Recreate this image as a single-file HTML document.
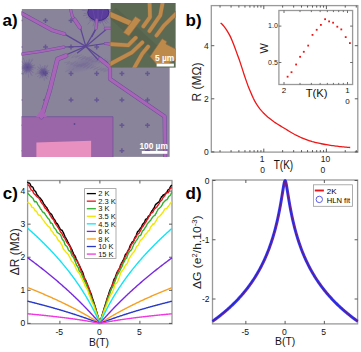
<!DOCTYPE html>
<html><head><meta charset="utf-8"><style>
html,body{margin:0;padding:0;background:#fff;}
svg{display:block;font-family:"Liberation Sans", sans-serif;}
</style></head><body>
<svg width="361" height="352" viewBox="0 0 361 352" font-family='"Liberation Sans", sans-serif'>
<rect width="361" height="352" fill="#fff"/>
<text x="2.5" y="25.5" font-size="17" text-anchor="start" font-weight="bold" fill="#000" >a)</text>
<text x="185.5" y="25.5" font-size="17" text-anchor="start" font-weight="bold" fill="#000" >b)</text>
<text x="2.8" y="198.8" font-size="17" text-anchor="start" font-weight="bold" fill="#000" >c)</text>
<text x="185.5" y="199.3" font-size="17" text-anchor="start" font-weight="bold" fill="#000" >d)</text>
<clipPath id="phclip"><rect x="21.6" y="9.0" width="148.20000000000002" height="147.9"/></clipPath>
<g clip-path="url(#phclip)">
<rect x="21.6" y="9.0" width="148.20000000000002" height="147.9" fill="#8a849b"/>
<path d="M17.6,20.6 H22.4 M20,18.2 V23" stroke="#56458e" stroke-width="1.5" opacity="0.7"/>
<path d="M17.6,47 H22.4 M20,44.6 V49.4" stroke="#56458e" stroke-width="1.5" opacity="0.7"/>
<path d="M17.6,73.6 H22.4 M20,71.2 V76" stroke="#56458e" stroke-width="1.5" opacity="0.7"/>
<path d="M17.6,99.9 H22.4 M20,97.5 V102.3" stroke="#56458e" stroke-width="1.5" opacity="0.7"/>
<path d="M17.6,125.3 H22.4 M20,122.9 V127.7" stroke="#56458e" stroke-width="1.5" opacity="0.7"/>
<path d="M17.6,150.7 H22.4 M20,148.3 V153.1" stroke="#56458e" stroke-width="1.5" opacity="0.7"/>
<path d="M43.1,20.6 H47.9 M45.5,18.2 V23" stroke="#56458e" stroke-width="1.5" opacity="0.7"/>
<path d="M43.1,47 H47.9 M45.5,44.6 V49.4" stroke="#56458e" stroke-width="1.5" opacity="0.7"/>
<path d="M43.1,73.6 H47.9 M45.5,71.2 V76" stroke="#56458e" stroke-width="1.5" opacity="0.7"/>
<path d="M43.1,99.9 H47.9 M45.5,97.5 V102.3" stroke="#56458e" stroke-width="1.5" opacity="0.7"/>
<path d="M43.1,125.3 H47.9 M45.5,122.9 V127.7" stroke="#56458e" stroke-width="1.5" opacity="0.7"/>
<path d="M43.1,150.7 H47.9 M45.5,148.3 V153.1" stroke="#56458e" stroke-width="1.5" opacity="0.7"/>
<path d="M68.6,20.6 H73.4 M71,18.2 V23" stroke="#56458e" stroke-width="1.5" opacity="0.7"/>
<path d="M68.6,47 H73.4 M71,44.6 V49.4" stroke="#56458e" stroke-width="1.5" opacity="0.7"/>
<path d="M68.6,73.6 H73.4 M71,71.2 V76" stroke="#56458e" stroke-width="1.5" opacity="0.7"/>
<path d="M68.6,99.9 H73.4 M71,97.5 V102.3" stroke="#56458e" stroke-width="1.5" opacity="0.7"/>
<path d="M68.6,125.3 H73.4 M71,122.9 V127.7" stroke="#56458e" stroke-width="1.5" opacity="0.7"/>
<path d="M68.6,150.7 H73.4 M71,148.3 V153.1" stroke="#56458e" stroke-width="1.5" opacity="0.7"/>
<path d="M94.3,20.6 H99.1 M96.7,18.2 V23" stroke="#56458e" stroke-width="1.5" opacity="0.7"/>
<path d="M94.3,47 H99.1 M96.7,44.6 V49.4" stroke="#56458e" stroke-width="1.5" opacity="0.7"/>
<path d="M94.3,73.6 H99.1 M96.7,71.2 V76" stroke="#56458e" stroke-width="1.5" opacity="0.7"/>
<path d="M94.3,99.9 H99.1 M96.7,97.5 V102.3" stroke="#56458e" stroke-width="1.5" opacity="0.7"/>
<path d="M94.3,125.3 H99.1 M96.7,122.9 V127.7" stroke="#56458e" stroke-width="1.5" opacity="0.7"/>
<path d="M94.3,150.7 H99.1 M96.7,148.3 V153.1" stroke="#56458e" stroke-width="1.5" opacity="0.7"/>
<path d="M119.5,20.6 H124.3 M121.9,18.2 V23" stroke="#56458e" stroke-width="1.5" opacity="0.7"/>
<path d="M119.5,47 H124.3 M121.9,44.6 V49.4" stroke="#56458e" stroke-width="1.5" opacity="0.7"/>
<path d="M119.5,73.6 H124.3 M121.9,71.2 V76" stroke="#56458e" stroke-width="1.5" opacity="0.7"/>
<path d="M119.5,99.9 H124.3 M121.9,97.5 V102.3" stroke="#56458e" stroke-width="1.5" opacity="0.7"/>
<path d="M119.5,125.3 H124.3 M121.9,122.9 V127.7" stroke="#56458e" stroke-width="1.5" opacity="0.7"/>
<path d="M119.5,150.7 H124.3 M121.9,148.3 V153.1" stroke="#56458e" stroke-width="1.5" opacity="0.7"/>
<path d="M145.1,20.6 H149.9 M147.5,18.2 V23" stroke="#56458e" stroke-width="1.5" opacity="0.7"/>
<path d="M145.1,47 H149.9 M147.5,44.6 V49.4" stroke="#56458e" stroke-width="1.5" opacity="0.7"/>
<path d="M145.1,73.6 H149.9 M147.5,71.2 V76" stroke="#56458e" stroke-width="1.5" opacity="0.7"/>
<path d="M145.1,99.9 H149.9 M147.5,97.5 V102.3" stroke="#56458e" stroke-width="1.5" opacity="0.7"/>
<path d="M145.1,125.3 H149.9 M147.5,122.9 V127.7" stroke="#56458e" stroke-width="1.5" opacity="0.7"/>
<path d="M145.1,150.7 H149.9 M147.5,148.3 V153.1" stroke="#56458e" stroke-width="1.5" opacity="0.7"/>
<path d="M170.6,20.6 H175.4 M173,18.2 V23" stroke="#56458e" stroke-width="1.5" opacity="0.7"/>
<path d="M170.6,47 H175.4 M173,44.6 V49.4" stroke="#56458e" stroke-width="1.5" opacity="0.7"/>
<path d="M170.6,73.6 H175.4 M173,71.2 V76" stroke="#56458e" stroke-width="1.5" opacity="0.7"/>
<path d="M170.6,99.9 H175.4 M173,97.5 V102.3" stroke="#56458e" stroke-width="1.5" opacity="0.7"/>
<path d="M170.6,125.3 H175.4 M173,122.9 V127.7" stroke="#56458e" stroke-width="1.5" opacity="0.7"/>
<path d="M170.6,150.7 H175.4 M173,148.3 V153.1" stroke="#56458e" stroke-width="1.5" opacity="0.7"/>
<defs><radialGradient id="blobg"><stop offset="0" stop-color="#5a3c9a" stop-opacity="0.95"/><stop offset="0.6" stop-color="#5a3c9a" stop-opacity="0.85"/><stop offset="1" stop-color="#5a3c9a" stop-opacity="0"/></radialGradient><radialGradient id="dustg"><stop offset="0" stop-color="#54428e" stop-opacity="0.9"/><stop offset="0.5" stop-color="#5a4890" stop-opacity="0.55"/><stop offset="1" stop-color="#5a4890" stop-opacity="0"/></radialGradient><radialGradient id="streakg"><stop offset="0" stop-color="#6a5c96" stop-opacity="0.45"/><stop offset="1" stop-color="#6a5c96" stop-opacity="0"/></radialGradient></defs>
<circle cx="98.0" cy="12.5" r="11.25" fill="url(#blobg)"/>
<path d="M102.5,12.5 L108.12,12.5 M102.22,14.07 L108.46,16.4 M101.4,15.45 L107.22,20.49 M101.79,14.93 L109.14,19.66 M100.7,16.1 L106.56,23.93 M101.18,15.68 L108.83,23.33 M99.87,16.59 L104.79,27.38 M98.32,16.99 L98.76,23.12 M98.96,16.9 L100.48,23.92 M97.36,16.95 L96.19,25.09 M98,17 L98,26.26 M96.43,16.72 L92.83,26.36 M95.05,15.9 L87.63,24.47 M95.57,16.29 L92.53,21.02 M94.4,15.2 L89.06,19.19 M94.82,15.68 L89.37,21.13 M93.91,14.37 L85.96,18 M93.51,12.82 L83.76,13.52 M93.6,13.46 L83.03,15.76 M93.55,11.86 L81.81,10.17 M93.5,12.5 L87.36,12.5 M93.78,10.93 L87.05,8.42 M94.6,9.55 L88.39,4.17 M94.21,10.07 L86.42,5.06 M95.3,8.9 L89.13,0.65 M94.82,9.32 L86.8,1.3 M96.13,8.41 L93.79,3.29 M97.68,8.01 L97.21,1.36 M97.04,8.1 L95.41,0.58 M98.64,8.05 L99.89,-0.61 M98,8 L98,-1.78 M99.57,8.28 L103.35,-1.85 M100.95,9.1 L108.71,0.14 M100.43,8.71 L103.76,3.55 M101.6,9.8 L107.35,5.5 M101.18,9.32 L107,3.5 M102.09,10.63 L110.52,6.79 M102.49,12.18 L112.76,11.45 M102.4,11.54 L113.47,9.13 M102.45,13.14 L108.02,13.94" stroke="#5a3c9a" stroke-width="0.45" opacity="0.55"/>
<ellipse cx="98.3" cy="12.5" rx="10.5" ry="8" fill="#5a3c9c" stroke="#442a86" stroke-width="1"/>
<path d="M92,6 Q94,14 95,20 M98,5 V21 M104,6 Q102,14 101,20" stroke="#7458b0" stroke-width="0.7" fill="none" opacity="0.6"/>
<circle cx="27.5" cy="67.3" r="6.0" fill="url(#dustg)"/>
<path d="M29.9,67.3 L33.98,67.3 M29.7,68.26 L34.05,70.14 M29.14,69.05 L32.83,73 M29.29,68.9 L33.82,72.94 M28.51,69.48 L31.33,75.59 M28.7,69.38 L32.4,75.79 M27.77,69.68 L28.69,77.7 M26.8,69.6 L25.52,73.82 M27.01,69.65 L25.98,74.62 M26.12,69.26 L22.81,73.95 M26.3,69.38 L23.1,74.93 M25.57,68.73 L19.89,72.94 M25.16,67.84 L17.63,69.59 M25.22,68.05 L21.35,69.33 M25.11,67.08 L20.38,66.65 M25.1,67.3 L19.69,67.3 M25.3,66.34 L19.73,63.93 M25.86,65.55 L21.26,60.63 M25.71,65.7 L20.18,60.77 M26.49,65.12 L23.11,57.8 M26.3,65.22 L24.09,61.4 M27.23,64.92 L26.65,59.87 M28.2,65 L29.87,59.51 M27.99,64.95 L29.29,58.68 M28.88,65.34 L32.96,59.56 M28.7,65.22 L32.57,58.52 M29.43,65.87 L32.71,63.44 M29.84,66.76 L34.46,65.68 M29.78,66.55 L34.92,64.85 M29.89,67.52 L35.94,68.07" stroke="#5a4890" stroke-width="0.45" opacity="0.5"/>
<circle cx="43.4" cy="72.2" r="5.0" fill="url(#dustg)"/>
<path d="M45.4,72.2 L48.8,72.2 M45.23,73 L48.86,74.57 M44.77,73.66 L47.85,76.95 M44.89,73.53 L48.67,76.9 M44.24,74.02 L46.6,79.11 M44.4,73.93 L47.48,79.27 M43.63,74.19 L44.39,80.87 M42.82,74.11 L41.75,77.63 M42.99,74.16 L42.13,78.3 M42.25,73.83 L39.49,77.74 M42.4,73.93 L39.73,78.56 M41.79,73.39 L37.06,76.9 M41.45,72.65 L35.17,74.11 M41.5,72.83 L38.27,73.89 M41.41,72.02 L37.47,71.66 M41.4,72.2 L36.89,72.2 M41.57,71.4 L36.92,69.39 M42.03,70.74 L38.2,66.64 M41.91,70.87 L37.3,66.76 M42.56,70.38 L39.74,64.28 M42.4,70.47 L40.56,67.28 M43.17,70.21 L42.69,66.01 M43.98,70.29 L45.37,65.71 M43.81,70.24 L44.89,65.01 M44.55,70.57 L47.95,65.75 M44.4,70.47 L47.62,64.89 M45.01,71.01 L47.74,68.98 M45.35,71.75 L49.2,70.85 M45.3,71.57 L49.58,70.16 M45.39,72.38 L50.43,72.84" stroke="#5a4890" stroke-width="0.45" opacity="0.5"/>
<ellipse cx="84" cy="64" rx="22" ry="8" fill="url(#streakg)" transform="rotate(-18 84 64)"/>
<path d="M64,57 l4,-1.5 M101,64 l5,-2.5 M96,71 l6,-3.5 M91,62 l7,-1.5 M86,69 l4,-2.5 M81,60 l5,-3.5 M76,67 l6,-1.5 M71,58 l7,-2.5 M66,65 l4,-3.5 M103,72 l5,-1.5 M98,63 l6,-2.5 M93,70 l7,-3.5 M88,61 l4,-1.5 M83,68 l5,-2.5 M78,59 l6,-3.5 M73,66 l7,-1.5 M68,57 l4,-2.5 M105,64 l5,-3.5 M100,71 l6,-1.5 M95,62 l7,-2.5 M90,69 l4,-3.5 M85,60 l5,-1.5 M80,67 l6,-2.5 M75,58 l7,-3.5 M70,65 l4,-1.5 M65,72 l5,-2.5 M102,63 l6,-3.5 M97,70 l7,-1.5 M92,61 l4,-2.5 M87,68 l5,-3.5 M82,59 l6,-1.5 M77,66 l7,-2.5 M72,57 l4,-3.5 M67,64 l5,-1.5 M104,71 l6,-2.5 M99,62 l7,-3.5 M94,69 l4,-1.5 M89,60 l5,-2.5 M84,67 l6,-3.5 M79,58 l7,-1.5 M74,65 l4,-2.5 M69,72 l5,-3.5 M64,63 l6,-1.5 M101,70 l7,-2.5 M96,61 l4,-3.5 M91,68 l5,-1.5 M86,59 l6,-2.5 M81,66 l7,-3.5 M76,57 l4,-1.5 M71,64 l5,-2.5" stroke="#62558e" stroke-width="0.4" opacity="0.45"/>
<path d="M18,116.7 H113 V160 H18 Z" fill="#9a66a8" stroke="#6d4f9c" stroke-width="0.7"/>
<circle cx="74.5" cy="124" r="0.9" fill="#5a4890"/>
<path d="M36.4,142.4 L91.1,140.7 L91.1,160 L36.4,160 Z" fill="#e891c0"/>
<path d="M64.2,33.9 L85.8,46.4" fill="none" stroke="#5c4896" stroke-width="1.25" stroke-linejoin="round"/>
<path d="M80.3,27.5 L85.8,46.4" fill="none" stroke="#5c4896" stroke-width="1.25" stroke-linejoin="round"/>
<path d="M96,28.6 L85.8,46.4" fill="none" stroke="#5c4896" stroke-width="1.25" stroke-linejoin="round"/>
<path d="M107.3,28.4 L85.8,46.4" fill="none" stroke="#5c4896" stroke-width="1.25" stroke-linejoin="round"/>
<path d="M108.5,43 L85.8,46.4" fill="none" stroke="#5c4896" stroke-width="1.25" stroke-linejoin="round"/>
<path d="M63.75,47 L85.8,46.4" fill="none" stroke="#5c4896" stroke-width="1.25" stroke-linejoin="round"/>
<path d="M77,53.3 L85.8,46.4" fill="none" stroke="#5c4896" stroke-width="1.25" stroke-linejoin="round"/>
<path d="M58.75,58 L85.8,46.4" fill="none" stroke="#5c4896" stroke-width="1.25" stroke-linejoin="round"/>
<path d="M98.2,60 L85.8,46.4" fill="none" stroke="#5c4896" stroke-width="1.25" stroke-linejoin="round"/>
<path d="M108,63 L85.8,46.4" fill="none" stroke="#5c4896" stroke-width="1.25" stroke-linejoin="round"/>
<path d="M91.8,37 L96,28.6" fill="none" stroke="#5c4896" stroke-width="1.25" stroke-linejoin="round"/>
<path d="M18,11.5 L52.7,30.4 L64.2,33.9" fill="none" stroke="#6c509c" stroke-width="4.04" stroke-linejoin="round" stroke-linecap="round"/>
<path d="M18,11.5 L52.7,30.4 L64.2,33.9" fill="none" stroke="#a864b6" stroke-width="3.04" stroke-linejoin="round" stroke-linecap="round"/>
<path d="M18,54.5 L40,51.5 L63.75,47.2" fill="none" stroke="#6c509c" stroke-width="3.2399999999999998" stroke-linejoin="round" stroke-linecap="round"/>
<path d="M18,54.5 L40,51.5 L63.75,47.2" fill="none" stroke="#a864b6" stroke-width="2.2399999999999998" stroke-linejoin="round" stroke-linecap="round"/>
<path d="M69.8,6 L72.3,16.5 L74.5,19.5 L80.3,27.8" fill="none" stroke="#6c509c" stroke-width="3.08" stroke-linejoin="round" stroke-linecap="round"/>
<path d="M69.8,6 L72.3,16.5 L74.5,19.5 L80.3,27.8" fill="none" stroke="#a864b6" stroke-width="2.08" stroke-linejoin="round" stroke-linecap="round"/>
<path d="M74.8,19.8 L79.8,27.3" fill="none" stroke="#6c509c" stroke-width="4.2" stroke-linejoin="round" stroke-linecap="round"/>
<path d="M74.8,19.8 L79.8,27.3" fill="none" stroke="#a864b6" stroke-width="3.2" stroke-linejoin="round" stroke-linecap="round"/>
<path d="M96.7,19.8 L96,28.6" fill="none" stroke="#6c509c" stroke-width="3.08" stroke-linejoin="round" stroke-linecap="round"/>
<path d="M96.7,19.8 L96,28.6" fill="none" stroke="#a864b6" stroke-width="2.08" stroke-linejoin="round" stroke-linecap="round"/>
<path d="M105.3,28.4 L113,28.4" fill="none" stroke="#6c509c" stroke-width="3.08" stroke-linejoin="round" stroke-linecap="round"/>
<path d="M105.3,28.4 L113,28.4" fill="none" stroke="#a864b6" stroke-width="2.08" stroke-linejoin="round" stroke-linecap="round"/>
<path d="M105.3,43.5 L113,44.5" fill="none" stroke="#6c509c" stroke-width="3.08" stroke-linejoin="round" stroke-linecap="round"/>
<path d="M105.3,43.5 L113,44.5" fill="none" stroke="#a864b6" stroke-width="2.08" stroke-linejoin="round" stroke-linecap="round"/>
<path d="M66,55.8 L57.5,59 L49.8,90 L41.4,117" fill="none" stroke="#6c509c" stroke-width="4.68" stroke-linejoin="round" stroke-linecap="round"/>
<path d="M66,55.8 L57.5,59 L49.8,90 L41.4,117" fill="none" stroke="#a864b6" stroke-width="3.6799999999999997" stroke-linejoin="round" stroke-linecap="round"/>
<path d="M36,117 L41.6,109 L47,117 Z" fill="#a864b6"/>
<path d="M100,59 L110,67 L110,79 L164.6,116.5 L165.2,162" fill="none" stroke="#6c509c" stroke-width="4.12" stroke-linejoin="round" stroke-linecap="round"/>
<path d="M100,59 L110,67 L110,79 L164.6,116.5 L165.2,162" fill="none" stroke="#a864b6" stroke-width="3.12" stroke-linejoin="round" stroke-linecap="round"/>
</g>
<clipPath id="inclip"><rect x="110.4" y="3.0" width="65.4" height="64.8"/></clipPath>
<g clip-path="url(#inclip)">
<rect x="110.4" y="3.0" width="65.4" height="64.8" fill="#5d6a53"/>
<path d="M111.9,12 L137.8,35.8 L163.6,59.6" stroke="#4f5a47" stroke-width="12" fill="none" opacity="0.45"/>
<path d="M107.4,13.2 L132.4,24" fill="none" stroke="#8c6c44" stroke-width="5.7" stroke-linejoin="round" stroke-linecap="round"/>
<path d="M107.4,13.2 L132.4,24" fill="none" stroke="#be8a4c" stroke-width="4.8" stroke-linejoin="round" stroke-linecap="round"/>
<path d="M135.4,16.5 L140.9,20 L128.9,36 L123.4,32.5 Z" fill="#be8a4c" stroke="#8c6c44" stroke-width="0.7" stroke-linejoin="round"/>
<path d="M149.5,0 L150,17.1 L143.4,26.4" fill="none" stroke="#8c6c44" stroke-width="4.5" stroke-linejoin="round" stroke-linecap="round"/>
<path d="M149.5,0 L150,17.1 L143.4,26.4" fill="none" stroke="#be8a4c" stroke-width="3.5999999999999996" stroke-linejoin="round" stroke-linecap="round"/>
<path d="M163.1,0 L160.3,15.2 L149.5,31.1" fill="none" stroke="#8c6c44" stroke-width="4.5" stroke-linejoin="round" stroke-linecap="round"/>
<path d="M163.1,0 L160.3,15.2 L149.5,31.1" fill="none" stroke="#be8a4c" stroke-width="3.5999999999999996" stroke-linejoin="round" stroke-linecap="round"/>
<path d="M179.4,10.5 L164,25.5 L156.5,35.5" fill="none" stroke="#8c6c44" stroke-width="4.5" stroke-linejoin="round" stroke-linecap="round"/>
<path d="M179.4,10.5 L164,25.5 L156.5,35.5" fill="none" stroke="#be8a4c" stroke-width="3.5999999999999996" stroke-linejoin="round" stroke-linecap="round"/>
<path d="M107.4,43.9 L128.2,45.3 L135.7,37.8" fill="none" stroke="#8c6c44" stroke-width="4.5" stroke-linejoin="round" stroke-linecap="round"/>
<path d="M107.4,43.9 L128.2,45.3 L135.7,37.8" fill="none" stroke="#be8a4c" stroke-width="3.5999999999999996" stroke-linejoin="round" stroke-linecap="round"/>
<path d="M107.4,65.5 L132,52.3 L142.3,42.5" fill="none" stroke="#8c6c44" stroke-width="4.5" stroke-linejoin="round" stroke-linecap="round"/>
<path d="M107.4,65.5 L132,52.3 L142.3,42.5" fill="none" stroke="#be8a4c" stroke-width="3.5999999999999996" stroke-linejoin="round" stroke-linecap="round"/>
<path d="M131.9,72 L142.3,53.7 L148.1,46.7" fill="none" stroke="#8c6c44" stroke-width="4.5" stroke-linejoin="round" stroke-linecap="round"/>
<path d="M131.9,72 L142.3,53.7 L148.1,46.7" fill="none" stroke="#be8a4c" stroke-width="3.5999999999999996" stroke-linejoin="round" stroke-linecap="round"/>
<path d="M162.1,38.7 L166.8,41.6 L165.9,44 L177.4,50 L177.4,59 L168.4,63.5 L156.4,64 L150,56.5 Z" fill="#be8a4c" stroke="#8c6c44" stroke-width="0.7" stroke-linejoin="round"/>
</g>
<text x="164.6" y="61" font-size="8.4" text-anchor="middle" font-weight="bold" fill="#fff" >5 µm</text>
<rect x="156.6" y="63.6" width="17.3" height="2.9" fill="#fff"/>
<text x="139.4" y="148.6" font-size="8.8" text-anchor="start" font-weight="bold" fill="#fff" textLength="28.4" lengthAdjust="spacingAndGlyphs">100 µm</text>
<rect x="141.8" y="151" width="25.6" height="2.8" fill="#fff"/>
<rect x="211.3" y="5.6" width="146.5" height="146.5" fill="none" stroke="#999999" stroke-width="1.3"/>
<text x="208.8" y="154.9" font-size="8.5" text-anchor="end" font-weight="normal" fill="#222" >0</text>
<text x="208.8" y="101.8" font-size="8.5" text-anchor="end" font-weight="normal" fill="#222" >2</text>
<text x="208.8" y="48.7" font-size="8.5" text-anchor="end" font-weight="normal" fill="#222" >4</text>
<path d="M211.3,151.9 h3 M357.8,151.9 h-3 M211.3,98.8 h3 M357.8,98.8 h-3 M211.3,45.7 h3 M357.8,45.7 h-3 M220.04,152.1 v-2 M220.04,5.6 v2 M231.07,152.1 v-2 M231.07,5.6 v2 M238.89,152.1 v-2 M238.89,5.6 v2 M244.96,152.1 v-2 M244.96,5.6 v2 M249.91,152.1 v-2 M249.91,5.6 v2 M254.1,152.1 v-2 M254.1,5.6 v2 M257.73,152.1 v-2 M257.73,5.6 v2 M260.94,152.1 v-2 M260.94,5.6 v2 M263.8,152.1 v-3.5 M263.8,5.6 v3.5 M282.64,152.1 v-2 M282.64,5.6 v2 M293.67,152.1 v-2 M293.67,5.6 v2 M301.49,152.1 v-2 M301.49,5.6 v2 M307.56,152.1 v-2 M307.56,5.6 v2 M312.51,152.1 v-2 M312.51,5.6 v2 M316.7,152.1 v-2 M316.7,5.6 v2 M320.33,152.1 v-2 M320.33,5.6 v2 M323.54,152.1 v-2 M323.54,5.6 v2 M326.4,152.1 v-3.5 M326.4,5.6 v3.5 M345.24,152.1 v-2 M345.24,5.6 v2 M356.27,152.1 v-2 M356.27,5.6 v2" stroke="#4a4a4a" stroke-width="0.9" fill="none"/>
<text x="262.2" y="161.7" font-size="8.5" text-anchor="middle" font-weight="normal" fill="#222" >1</text>
<text x="262.5" y="172.6" font-size="8.5" text-anchor="middle" font-weight="normal" fill="#222" >0</text>
<text x="325.6" y="161.7" font-size="8.5" text-anchor="middle" font-weight="normal" fill="#222" >10</text>
<text x="322.9" y="172.6" font-size="8.5" text-anchor="middle" font-weight="normal" fill="#222" >0</text>
<text x="273.7" y="168.8" font-size="12.5" text-anchor="start" font-weight="normal" fill="#111" textLength="19.5" lengthAdjust="spacingAndGlyphs">T(K)</text>
<text transform="translate(201.0,82) rotate(-90)" font-size="12" text-anchor="middle" fill="#222">R (MΩ)</text>
<path d="M220.6,22.9 L221.91,24.04 L223.22,25.45 L224.53,27.09 L225.84,28.93 L227.15,30.95 L228.45,33.1 L229.76,35.41 L231.07,38.13 L232.38,41.21 L233.69,44.55 L235,48.06 L236.31,51.64 L237.62,55.18 L238.93,58.79 L240.24,62.62 L241.55,66.6 L242.85,70.65 L244.16,74.68 L245.47,78.62 L246.78,82.39 L248.09,85.92 L249.4,89.17 L250.71,92.34 L252.02,95.38 L253.33,98.24 L254.64,100.84 L255.95,103.14 L257.25,105.19 L258.56,107.07 L259.87,108.79 L261.18,110.39 L262.49,111.87 L263.8,113.25 L265.11,114.54 L266.42,115.76 L267.73,116.92 L269.04,118.01 L270.35,119.06 L271.65,120.07 L272.96,121.03 L274.27,121.96 L275.58,122.84 L276.89,123.7 L278.2,124.53 L279.51,125.35 L280.82,126.14 L282.13,126.94 L283.44,127.72 L284.75,128.52 L286.05,129.32 L287.36,130.13 L288.67,130.94 L289.98,131.74 L291.29,132.52 L292.6,133.29 L293.91,134.02 L295.22,134.71 L296.53,135.38 L297.84,136.04 L299.15,136.67 L300.45,137.28 L301.76,137.87 L303.07,138.43 L304.38,138.96 L305.69,139.46 L307,139.94 L308.31,140.4 L309.62,140.83 L310.93,141.24 L312.24,141.62 L313.55,141.96 L314.85,142.29 L316.16,142.6 L317.47,142.9 L318.78,143.2 L320.09,143.48 L321.4,143.75 L322.71,144.01 L324.02,144.26 L325.33,144.5 L326.64,144.73 L327.95,144.95 L329.25,145.16 L330.56,145.35 L331.87,145.54 L333.18,145.72 L334.49,145.89 L335.8,146.06 L337.11,146.23 L338.42,146.39 L339.73,146.55 L341.04,146.69 L342.35,146.83 L343.65,146.97 L344.96,147.09 L346.27,147.21 L347.58,147.32 L348.89,147.41 L350.2,147.5" fill="none" stroke="#ee1616" stroke-width="1.3"/>
<rect x="278.9" y="10.5" width="73.70000000000005" height="74.0" fill="#fff" stroke="#999999" stroke-width="1.3"/>
<text x="277.8" y="64.7" font-size="7" text-anchor="end" font-weight="normal" fill="#222" >0.5</text>
<text x="277.8" y="28.3" font-size="7" text-anchor="end" font-weight="normal" fill="#222" >1.0</text>
<path d="M278.9,62.5 h2.5 M352.6,62.5 h-2.5 M278.9,26.1 h2.5 M352.6,26.1 h-2.5 M284,84.5 v-2.5 M284,10.5 v2.5 M300,84.5 v-1.6 M300,10.5 v1.6 M311.35,84.5 v-1.6 M311.35,10.5 v1.6 M320.15,84.5 v-1.6 M320.15,10.5 v1.6 M327.35,84.5 v-1.6 M327.35,10.5 v1.6 M333.43,84.5 v-1.6 M333.43,10.5 v1.6 M338.7,84.5 v-1.6 M338.7,10.5 v1.6 M343.34,84.5 v-1.6 M343.34,10.5 v1.6 M347.5,84.5 v-2.5 M347.5,10.5 v2.5" stroke="#4a4a4a" stroke-width="0.8" fill="none"/>
<text x="284" y="92.7" font-size="8" text-anchor="middle" font-weight="normal" fill="#111" >2</text>
<text x="347.4" y="92.9" font-size="8" text-anchor="middle" font-weight="normal" fill="#111" >1</text>
<text x="347.6" y="103.5" font-size="8" text-anchor="middle" font-weight="normal" fill="#111" >0</text>
<text x="316.5" y="97.2" font-size="11.2" text-anchor="middle" font-weight="normal" fill="#111" >T(K)</text>
<text transform="translate(268.2,48.3) rotate(-90)" font-size="11" text-anchor="middle" fill="#222">W</text>
<rect x="286.7" y="75.8" width="1.8" height="1.8" fill="#ee1616"/>
<rect x="290.6" y="71.3" width="1.8" height="1.8" fill="#ee1616"/>
<rect x="295.2" y="63.6" width="1.8" height="1.8" fill="#ee1616"/>
<rect x="299.2" y="55.9" width="1.8" height="1.8" fill="#ee1616"/>
<rect x="302.9" y="50.9" width="1.8" height="1.8" fill="#ee1616"/>
<rect x="307.3" y="44.7" width="1.8" height="1.8" fill="#ee1616"/>
<rect x="311.6" y="34" width="1.8" height="1.8" fill="#ee1616"/>
<rect x="315.8" y="28.9" width="1.8" height="1.8" fill="#ee1616"/>
<rect x="320" y="24" width="1.8" height="1.8" fill="#ee1616"/>
<rect x="324.2" y="18.3" width="1.8" height="1.8" fill="#ee1616"/>
<rect x="328.2" y="20.5" width="1.8" height="1.8" fill="#ee1616"/>
<rect x="332.2" y="21.8" width="1.8" height="1.8" fill="#ee1616"/>
<rect x="336.4" y="25.8" width="1.8" height="1.8" fill="#ee1616"/>
<rect x="340.4" y="28.5" width="1.8" height="1.8" fill="#ee1616"/>
<rect x="344.8" y="36.2" width="1.8" height="1.8" fill="#ee1616"/>
<rect x="349" y="42.2" width="1.8" height="1.8" fill="#ee1616"/>
<rect x="27.6" y="180.5" width="144.4" height="143.3" fill="none" stroke="#999999" stroke-width="1.3"/>
<text x="25.2" y="326.4" font-size="8.5" text-anchor="end" font-weight="normal" fill="#111" >0</text>
<text x="25.2" y="293.32" font-size="8.5" text-anchor="end" font-weight="normal" fill="#111" >1</text>
<text x="25.2" y="260.24" font-size="8.5" text-anchor="end" font-weight="normal" fill="#111" >2</text>
<text x="25.2" y="227.16" font-size="8.5" text-anchor="end" font-weight="normal" fill="#111" >3</text>
<text x="25.2" y="194.08" font-size="8.5" text-anchor="end" font-weight="normal" fill="#111" >4</text>
<text x="59.3" y="335.1" font-size="8.6" text-anchor="middle" font-weight="normal" fill="#111" >-5</text>
<text x="99.3" y="335.1" font-size="8.6" text-anchor="middle" font-weight="normal" fill="#111" >0</text>
<text x="139.3" y="335.1" font-size="8.6" text-anchor="middle" font-weight="normal" fill="#111" >5</text>
<path d="M27.6,323.4 h3 M172.0,323.4 h-3 M27.6,290.32 h3 M172.0,290.32 h-3 M27.6,257.24 h3 M172.0,257.24 h-3 M27.6,224.16 h3 M172.0,224.16 h-3 M27.6,191.08 h3 M172.0,191.08 h-3 M59.9,323.8 v-3 M59.9,180.5 v3 M99.9,323.8 v-3 M99.9,180.5 v3 M139.9,323.8 v-3 M139.9,180.5 v3" stroke="#4a4a4a" stroke-width="0.9" fill="none"/>
<text x="89" y="345.5" font-size="11.6" text-anchor="start" font-weight="normal" fill="#111" textLength="20" lengthAdjust="spacingAndGlyphs">B(T)</text>
<text transform="translate(18.6,251.7) rotate(-90)" font-size="12" text-anchor="middle" fill="#222">ΔR (MΩ)</text>
<path d="M27.42,181.82 L28.03,182.69 L28.64,183.03 L29.25,182.93 L29.86,183.59 L30.47,184.73 L31.07,186.21 L31.68,186.78 L32.29,186.79 L32.9,187.22 L33.51,188.73 L34.12,190.47 L34.73,190.81 L35.34,191.11 L35.95,192.21 L36.56,193.64 L37.17,194.95 L37.77,195.39 L38.38,196.37 L38.99,197.05 L39.6,197.47 L40.21,198.16 L40.82,198.97 L41.43,199.87 L42.04,200.41 L42.65,201.65 L43.26,202.76 L43.87,204.28 L44.47,204.63 L45.08,205.88 L45.69,206.41 L46.3,207.25 L46.91,207.79 L47.52,209.07 L48.13,210.1 L48.74,211.29 L49.35,212.32 L49.96,213.01 L50.56,213.94 L51.17,213.97 L51.78,214.72 L52.39,215.98 L53,217.25 L53.61,218.85 L54.22,219.08 L54.83,220.12 L55.44,221.41 L56.05,222.48 L56.66,223.57 L57.26,223.5 L57.87,224.83 L58.48,225.47 L59.09,227.22 L59.7,227.93 L60.31,229.51 L60.92,229.62 L61.53,230.34 L62.14,230.2 L62.75,231.54 L63.36,232.5 L63.96,234.13 L64.57,235.65 L65.18,237.06 L65.79,237.97 L66.4,238.99 L67.01,240 L67.62,241.61 L68.23,242.37 L68.84,243.7 L69.45,244.89 L70.06,246.17 L70.66,247.17 L71.27,248.6 L71.88,249.54 L72.49,251.24 L73.1,252.56 L73.71,254.56 L74.32,254.98 L74.93,255.91 L75.54,257.05 L76.15,259.07 L76.76,260.07 L77.36,261.39 L77.97,262.74 L78.58,263.99 L79.19,265.37 L79.8,266.37 L80.41,267.96 L81.02,269.07 L81.63,270.36 L82.24,271.29 L82.85,272.74 L83.45,274.62 L84.06,277.22 L84.67,278.59 L85.28,279.77 L85.89,280.54 L86.5,282.18 L87.11,283.79 L87.72,285.73 L88.33,287.34 L88.94,288.73 L89.55,290.27 L90.15,291.76 L90.76,293 L91.37,294.55 L91.98,296.77 L92.59,298.62 L93.2,300.49 L93.81,302.26 L94.42,304.32 L95.03,306.31 L95.64,308.25 L96.25,310.44 L96.85,312.57 L97.46,314.59 L98.07,316.62 L98.68,318.8 L99.29,321.07 L99.9,323.4 L100.51,321.09 L101.11,318.83 L101.72,316.75 L102.32,314.62 L102.93,312.67 L103.53,310.63 L104.14,308.48 L104.74,306.46 L105.35,304.52 L105.95,302.59 L106.56,300.57 L107.16,298.56 L107.77,296.8 L108.37,294.97 L108.98,292.95 L109.58,291.16 L110.19,289.55 L110.79,288.23 L111.4,287.12 L112,285.7 L112.61,284.1 L113.21,282.01 L113.82,279.81 L114.42,278.59 L115.03,277.86 L115.63,276.26 L116.24,274.43 L116.84,272.87 L117.45,271.67 L118.05,270.67 L118.66,269.57 L119.26,268.86 L119.87,267.72 L120.47,265.18 L121.08,264.01 L121.68,262.63 L122.29,262.02 L122.89,260.62 L123.5,259.6 L124.1,258.19 L124.71,256.45 L125.31,254.69 L125.92,253.9 L126.52,253.51 L127.13,252.52 L127.73,251.28 L128.34,249.94 L128.94,249.45 L129.55,247.36 L130.15,245.69 L130.76,244.33 L131.36,243.6 L131.97,242.36 L132.57,241.78 L133.18,241.23 L133.78,240.79 L134.39,238.65 L134.99,237.45 L135.6,236.36 L136.2,235.58 L136.81,233.85 L137.41,231.98 L138.02,231.14 L138.62,231.14 L139.23,229.96 L139.83,229.14 L140.44,228.04 L141.04,228.02 L141.65,226.54 L142.25,225.01 L142.86,223.93 L143.46,223.48 L144.07,222.73 L144.67,221.85 L145.28,219.94 L145.88,219.21 L146.49,218.87 L147.09,219.01 L147.7,217.59 L148.3,216.41 L148.91,215.9 L149.51,215.75 L150.12,214.68 L150.72,212.62 L151.33,211.91 L151.93,210.81 L152.54,210.1 L153.14,209.13 L153.75,208.59 L154.35,207.4 L154.96,205.7 L155.56,204.49 L156.17,204.18 L156.77,203.56 L157.38,203.1 L157.98,202.44 L158.59,202.35 L159.19,201.49 L159.8,200.68 L160.4,198.58 L161.01,197.86 L161.61,196.59 L162.22,196.32 L162.82,195.54 L163.43,194.8 L164.03,195.28 L164.64,194.41 L165.24,193.76 L165.85,193.07 L166.45,192.76 L167.06,191.94 L167.66,190.42 L168.27,189.65 L168.87,189.42 L169.48,188.78 L170.08,187.39 L170.69,186.36 L171.29,185.53 L171.9,185.06" fill="none" stroke="#000000" stroke-width="1.4" stroke-linejoin="round"/>
<path d="M27.42,184.65 L28.03,184.94 L28.64,185.34 L29.25,185.86 L29.86,187.14 L30.47,188.49 L31.07,189.73 L31.68,190.22 L32.29,190.51 L32.9,191.36 L33.51,192.94 L34.12,193.73 L34.73,194.32 L35.34,194.67 L35.95,195.62 L36.56,196.2 L37.17,196.78 L37.77,197.14 L38.38,197.73 L38.99,198.18 L39.6,199.05 L40.21,200.32 L40.82,201.64 L41.43,202.58 L42.04,203.41 L42.65,204.04 L43.26,204.65 L43.87,205.67 L44.47,207.34 L45.08,208.18 L45.69,208.76 L46.3,208.76 L46.91,210.51 L47.52,210.79 L48.13,211.66 L48.74,212.12 L49.35,213.75 L49.96,214.86 L50.56,215.78 L51.17,216.66 L51.78,218 L52.39,218.42 L53,219.26 L53.61,219.77 L54.22,221.11 L54.83,222.86 L55.44,223.65 L56.05,224.75 L56.66,224.98 L57.26,226.11 L57.87,227.3 L58.48,227.88 L59.09,229.13 L59.7,230.1 L60.31,231.69 L60.92,232.4 L61.53,232.83 L62.14,233.76 L62.75,235.37 L63.36,236.29 L63.96,237.49 L64.57,237.59 L65.18,239.04 L65.79,239.98 L66.4,241.7 L67.01,242.6 L67.62,243.13 L68.23,244.07 L68.84,245.01 L69.45,245.71 L70.06,246.84 L70.66,248.71 L71.27,250.96 L71.88,252.54 L72.49,253.53 L73.1,254.59 L73.71,255.76 L74.32,256.55 L74.93,258.42 L75.54,259.65 L76.15,260.36 L76.76,260.33 L77.36,260.95 L77.97,262.77 L78.58,263.8 L79.19,265.1 L79.8,266.56 L80.41,268.94 L81.02,270.5 L81.63,272.15 L82.24,273.35 L82.85,274.97 L83.45,276.15 L84.06,277.45 L84.67,278.34 L85.28,280.26 L85.89,281.69 L86.5,282.86 L87.11,283.91 L87.72,284.99 L88.33,286.84 L88.94,288.08 L89.55,289.91 L90.15,292.33 L90.76,294.44 L91.37,296.41 L91.98,298.14 L92.59,299.9 L93.2,301.82 L93.81,303.61 L94.42,305.3 L95.03,306.97 L95.64,308.76 L96.25,310.84 L96.85,312.86 L97.46,314.86 L98.07,316.89 L98.68,318.99 L99.29,321.17 L99.9,323.4 L100.51,321.16 L101.11,318.95 L101.72,316.85 L102.32,314.85 L102.93,312.82 L103.53,310.79 L104.14,308.77 L104.74,307.27 L105.35,305.84 L105.95,304.02 L106.56,301.75 L107.16,299.14 L107.77,297.27 L108.37,295.54 L108.98,294.18 L109.58,293.11 L110.19,291.3 L110.79,289.9 L111.4,287.69 L112,286.36 L112.61,284.51 L113.21,282.86 L113.82,281.61 L114.42,280.37 L115.03,279.53 L115.63,278.06 L116.24,275.93 L116.84,274.36 L117.45,272.43 L118.05,271.37 L118.66,269.64 L119.26,268.44 L119.87,267.78 L120.47,266.6 L121.08,265.04 L121.68,263.66 L122.29,262.56 L122.89,262.11 L123.5,260.53 L124.1,259.68 L124.71,257.67 L125.31,256.72 L125.92,255.7 L126.52,254.47 L127.13,252.84 L127.73,250.98 L128.34,250.28 L128.94,249.62 L129.55,248.77 L130.15,247.6 L130.76,246.06 L131.36,244.57 L131.97,243.67 L132.57,243.09 L133.18,242.43 L133.78,241.07 L134.39,239.36 L134.99,238.38 L135.6,237.92 L136.2,236.97 L136.81,235.59 L137.41,234.18 L138.02,234.08 L138.62,233.48 L139.23,232.93 L139.83,231.43 L140.44,230.93 L141.04,229.34 L141.65,228.36 L142.25,226.68 L142.86,226.6 L143.46,225.79 L144.07,224.55 L144.67,223.77 L145.28,222.74 L145.88,222.06 L146.49,220.85 L147.09,219.78 L147.7,219.25 L148.3,217.69 L148.91,216.92 L149.51,215.85 L150.12,214.71 L150.72,213.75 L151.33,212.51 L151.93,212.78 L152.54,212.45 L153.14,211.78 L153.75,210.21 L154.35,209.17 L154.96,208.36 L155.56,208.23 L156.17,207.32 L156.77,207.18 L157.38,205.88 L157.98,205.32 L158.59,204.34 L159.19,203.65 L159.8,202.05 L160.4,201.39 L161.01,200.84 L161.61,200.32 L162.22,199.34 L162.82,197.74 L163.43,197.27 L164.03,196.32 L164.64,196.06 L165.24,194.77 L165.85,193.82 L166.45,193.01 L167.06,192.79 L167.66,192.82 L168.27,192.58 L168.87,191.41 L169.48,189.84 L170.08,188.62 L170.69,188.19 L171.29,187.95 L171.9,187.41" fill="none" stroke="#e8141c" stroke-width="1.4" stroke-linejoin="round"/>
<path d="M27.42,192.7 L28.03,193.27 L28.64,194.31 L29.25,194.79 L29.86,195.48 L30.47,196.07 L31.07,196.5 L31.68,197.22 L32.29,197.72 L32.9,198.22 L33.51,199.57 L34.12,200.94 L34.73,201.9 L35.34,201.86 L35.95,201.43 L36.56,202.13 L37.17,202.92 L37.77,204.61 L38.38,205.36 L38.99,206.17 L39.6,206.99 L40.21,208.29 L40.82,209.32 L41.43,209.66 L42.04,211.1 L42.65,211.83 L43.26,212.64 L43.87,212.54 L44.47,213.27 L45.08,214 L45.69,215.08 L46.3,215.84 L46.91,216.88 L47.52,217.68 L48.13,218.57 L48.74,218.84 L49.35,219.84 L49.96,221.28 L50.56,223.14 L51.17,222.88 L51.78,223.29 L52.39,223.63 L53,225.39 L53.61,226.48 L54.22,228 L54.83,228.57 L55.44,229.07 L56.05,229.95 L56.66,231.24 L57.26,232.47 L57.87,232.76 L58.48,233.26 L59.09,233.58 L59.7,234.07 L60.31,234.74 L60.92,235.61 L61.53,237.38 L62.14,238.87 L62.75,239.9 L63.36,240.4 L63.96,241.2 L64.57,243.2 L65.18,244.89 L65.79,245.67 L66.4,245.93 L67.01,246.45 L67.62,247.85 L68.23,249.56 L68.84,250.39 L69.45,250.98 L70.06,250.96 L70.66,252.14 L71.27,253.62 L71.88,255.6 L72.49,256.33 L73.1,256.83 L73.71,257.8 L74.32,259.24 L74.93,260.91 L75.54,262.06 L76.15,264.13 L76.76,265.46 L77.36,266.28 L77.97,267.15 L78.58,268.53 L79.19,271.02 L79.8,271.39 L80.41,272.22 L81.02,272.42 L81.63,274.22 L82.24,275.9 L82.85,277.26 L83.45,278.62 L84.06,279.85 L84.67,281.21 L85.28,282.47 L85.89,283.3 L86.5,285.19 L87.11,286.6 L87.72,288.77 L88.33,290.15 L88.94,292.41 L89.55,293.54 L90.15,295.01 L90.76,296.16 L91.37,297.79 L91.98,299.43 L92.59,300.92 L93.2,302.7 L93.81,304.09 L94.42,305.72 L95.03,307.63 L95.64,309.46 L96.25,311.44 L96.85,313.25 L97.46,315.27 L98.07,317.19 L98.68,319.26 L99.29,321.3 L99.9,323.4 L100.51,321.29 L101.11,319.17 L101.72,317.22 L102.32,315.21 L102.93,313.47 L103.53,311.59 L104.14,309.92 L104.74,308.15 L105.35,306.33 L105.95,304.56 L106.56,302.61 L107.16,300.62 L107.77,299.09 L108.37,297.46 L108.98,296.17 L109.58,294.14 L110.19,292.11 L110.79,290.24 L111.4,288.64 L112,287.83 L112.61,287.45 L113.21,285.86 L113.82,284.74 L114.42,282.57 L115.03,281.4 L115.63,279.48 L116.24,277.53 L116.84,275.91 L117.45,274.49 L118.05,273.92 L118.66,272.8 L119.26,271.69 L119.87,270.82 L120.47,269.06 L121.08,268.31 L121.68,267.04 L122.29,265.96 L122.89,263.86 L123.5,262.49 L124.1,262.05 L124.71,260.57 L125.31,259.16 L125.92,258.47 L126.52,258.55 L127.13,256.83 L127.73,254.87 L128.34,253.34 L128.94,252.51 L129.55,251.43 L130.15,250.72 L130.76,250.58 L131.36,249.61 L131.97,248.82 L132.57,247.3 L133.18,245.86 L133.78,244.31 L134.39,243.27 L134.99,242.83 L135.6,241.78 L136.2,240.52 L136.81,240 L137.41,239.21 L138.02,238 L138.62,236.38 L139.23,235.74 L139.83,235.58 L140.44,235.56 L141.04,234.65 L141.65,232.99 L142.25,231.44 L142.86,230.56 L143.46,230.36 L144.07,229.48 L144.67,228.36 L145.28,227.41 L145.88,226.74 L146.49,225.64 L147.09,224.16 L147.7,223.24 L148.3,222.77 L148.91,222.03 L149.51,221.48 L150.12,220.66 L150.72,220.33 L151.33,218.98 L151.93,218.05 L152.54,217.4 L153.14,216.54 L153.75,216.03 L154.35,215.5 L154.96,215.46 L155.56,214.04 L156.17,213.25 L156.77,211.66 L157.38,210.9 L157.98,209.3 L158.59,208.73 L159.19,208.36 L159.8,207.82 L160.4,207.2 L161.01,206.68 L161.61,205.55 L162.22,204.89 L162.82,203.15 L163.43,202.65 L164.03,201.77 L164.64,201.47 L165.24,200.51 L165.85,200.08 L166.45,199.79 L167.06,199.8 L167.66,198.59 L168.27,197.44 L168.87,196.38 L169.48,195.96 L170.08,195.56 L170.69,194.48 L171.29,193.19 L171.9,192.32" fill="none" stroke="#30b030" stroke-width="1.4" stroke-linejoin="round"/>
<path d="M27.42,202.18 L28.03,202.64 L28.64,203.26 L29.25,203.43 L29.86,203.75 L30.47,204.25 L31.07,205.32 L31.68,206.87 L32.29,207.37 L32.9,207.68 L33.51,207.78 L34.12,208.95 L34.73,210.02 L35.34,210.9 L35.95,211.05 L36.56,211.33 L37.17,212.48 L37.77,213.79 L38.38,214.77 L38.99,215.07 L39.6,215.37 L40.21,215.3 L40.82,216.01 L41.43,217.21 L42.04,218.55 L42.65,219.36 L43.26,220.1 L43.87,220.87 L44.47,221.63 L45.08,222.63 L45.69,223.23 L46.3,224.11 L46.91,224.82 L47.52,225.62 L48.13,226.44 L48.74,226.35 L49.35,227.15 L49.96,227.76 L50.56,229.36 L51.17,230.45 L51.78,231.01 L52.39,231.81 L53,232.25 L53.61,234.02 L54.22,234.57 L54.83,235.39 L55.44,235.45 L56.05,236.36 L56.66,237.15 L57.26,238.39 L57.87,239.56 L58.48,240.72 L59.09,240.93 L59.7,241.36 L60.31,242.34 L60.92,243.52 L61.53,244.42 L62.14,245.66 L62.75,247.56 L63.36,248.95 L63.96,249.95 L64.57,250.17 L65.18,251.17 L65.79,251.91 L66.4,252.54 L67.01,253.09 L67.62,253.78 L68.23,254.37 L68.84,255.53 L69.45,256.63 L70.06,257.75 L70.66,258.97 L71.27,260.39 L71.88,261.4 L72.49,261.97 L73.1,262.3 L73.71,263.56 L74.32,264.45 L74.93,265.86 L75.54,267.17 L76.15,268.91 L76.76,269.82 L77.36,270.83 L77.97,271.75 L78.58,272.71 L79.19,272.99 L79.8,274.38 L80.41,275.5 L81.02,277.32 L81.63,277.81 L82.24,279.55 L82.85,280.69 L83.45,282.06 L84.06,283.1 L84.67,284.86 L85.28,286.27 L85.89,287.23 L86.5,288.16 L87.11,288.84 L87.72,290.6 L88.33,292.08 L88.94,294.31 L89.55,295.41 L90.15,296.98 L90.76,298.49 L91.37,300.45 L91.98,302.1 L92.59,303.42 L93.2,304.43 L93.81,305.76 L94.42,307.61 L95.03,309.5 L95.64,311.21 L96.25,312.76 L96.85,314.41 L97.46,316.09 L98.07,317.86 L98.68,319.69 L99.29,321.57 L99.9,323.4 L100.51,321.61 L101.11,319.8 L101.72,318.02 L102.32,316.28 L102.93,314.58 L103.53,312.98 L104.14,310.99 L104.74,309.26 L105.35,307.86 L105.95,306.51 L106.56,304.99 L107.16,303.16 L107.77,301.82 L108.37,300.3 L108.98,298.64 L109.58,296.98 L110.19,295.98 L110.79,294.85 L111.4,294.09 L112,292.94 L112.61,291.69 L113.21,290.21 L113.82,288.55 L114.42,286.29 L115.03,284.52 L115.63,283.41 L116.24,283.65 L116.84,282.84 L117.45,281.8 L118.05,280.61 L118.66,278.92 L119.26,277.43 L119.87,275.42 L120.47,273.51 L121.08,272.13 L121.68,271.1 L122.29,270.85 L122.89,269.91 L123.5,269.12 L124.1,268.2 L124.71,266.68 L125.31,265.43 L125.92,264.74 L126.52,264.45 L127.13,263.65 L127.73,262.18 L128.34,260.6 L128.94,259.1 L129.55,257.72 L130.15,256.94 L130.76,255.83 L131.36,255.12 L131.97,253.85 L132.57,253.73 L133.18,252.47 L133.78,252.24 L134.39,251.06 L134.99,250.27 L135.6,248.97 L136.2,247.12 L136.81,246.39 L137.41,245.69 L138.02,245.3 L138.62,244.58 L139.23,242.86 L139.83,241.51 L140.44,240.27 L141.04,240.02 L141.65,239.65 L142.25,238.69 L142.86,237.96 L143.46,237.39 L144.07,236.61 L144.67,235.29 L145.28,234.27 L145.88,233.81 L146.49,233.84 L147.09,232.57 L147.7,231.72 L148.3,230.74 L148.91,230.68 L149.51,230.13 L150.12,228.34 L150.72,226.97 L151.33,226.33 L151.93,225.5 L152.54,224.52 L153.14,223.66 L153.75,224.33 L154.35,223.69 L154.96,222.79 L155.56,221.23 L156.17,220.95 L156.77,219.61 L157.38,218.36 L157.98,217.19 L158.59,216.91 L159.19,216.57 L159.8,215.9 L160.4,215.64 L161.01,214.61 L161.61,214.19 L162.22,212.89 L162.82,212.54 L163.43,211.44 L164.03,210.48 L164.64,209.12 L165.24,208.83 L165.85,208.76 L166.45,208.74 L167.06,208.14 L167.66,206.9 L168.27,206.52 L168.87,205.59 L169.48,204.89 L170.08,203.63 L170.69,202.94 L171.29,202.13 L171.9,201.8" fill="none" stroke="#f2e600" stroke-width="1.4" stroke-linejoin="round"/>
<path d="M27.42,228.04 L28.03,228.57 L28.64,229.11 L29.25,229.65 L29.86,230.19 L30.47,230.74 L31.07,231.28 L31.68,231.83 L32.29,232.38 L32.9,232.94 L33.51,233.49 L34.12,234.05 L34.73,234.61 L35.34,235.18 L35.95,235.74 L36.56,236.31 L37.17,236.88 L37.77,237.46 L38.38,238.03 L38.99,238.61 L39.6,239.2 L40.21,239.78 L40.82,240.37 L41.43,240.96 L42.04,241.56 L42.65,242.16 L43.26,242.76 L43.87,243.36 L44.47,243.97 L45.08,244.58 L45.69,245.19 L46.3,245.81 L46.91,246.43 L47.52,247.05 L48.13,247.67 L48.74,248.3 L49.35,248.94 L49.96,249.57 L50.56,250.22 L51.17,250.86 L51.78,251.51 L52.39,252.16 L53,252.81 L53.61,253.47 L54.22,254.14 L54.83,254.8 L55.44,255.48 L56.05,256.15 L56.66,256.83 L57.26,257.51 L57.87,258.2 L58.48,258.9 L59.09,259.59 L59.7,260.29 L60.31,261 L60.92,261.71 L61.53,262.43 L62.14,263.15 L62.75,263.87 L63.36,264.6 L63.96,265.34 L64.57,266.08 L65.18,266.83 L65.79,267.58 L66.4,268.34 L67.01,269.1 L67.62,269.87 L68.23,270.64 L68.84,271.42 L69.45,272.21 L70.06,273 L70.66,273.8 L71.27,274.6 L71.88,275.41 L72.49,276.23 L73.1,277.06 L73.71,277.89 L74.32,278.73 L74.93,279.58 L75.54,280.43 L76.15,281.29 L76.76,282.16 L77.36,283.04 L77.97,283.92 L78.58,284.81 L79.19,285.72 L79.8,286.63 L80.41,287.55 L81.02,288.47 L81.63,289.41 L82.24,290.36 L82.85,291.32 L83.45,292.28 L84.06,293.26 L84.67,294.25 L85.28,295.24 L85.89,296.25 L86.5,297.27 L87.11,298.31 L87.72,299.35 L88.33,300.41 L88.94,301.48 L89.55,302.56 L90.15,303.66 L90.76,304.77 L91.37,305.89 L91.98,307.03 L92.59,308.18 L93.2,309.35 L93.81,310.54 L94.42,311.74 L95.03,312.96 L95.64,314.19 L96.25,315.45 L96.85,316.72 L97.46,318.01 L98.07,319.33 L98.68,320.66 L99.29,322.02 L99.9,323.4 L100.51,322.03 L101.11,320.68 L101.72,319.36 L102.32,318.05 L102.93,316.76 L103.53,315.5 L104.14,314.25 L104.74,313.02 L105.35,311.81 L105.95,310.61 L106.56,309.44 L107.16,308.27 L107.77,307.13 L108.37,305.99 L108.98,304.88 L109.58,303.77 L110.19,302.68 L110.79,301.61 L111.4,300.54 L112,299.49 L112.61,298.45 L113.21,297.42 L113.82,296.41 L114.42,295.4 L115.03,294.41 L115.63,293.43 L116.24,292.46 L116.84,291.49 L117.45,290.54 L118.05,289.6 L118.66,288.67 L119.26,287.74 L119.87,286.83 L120.47,285.92 L121.08,285.02 L121.68,284.13 L122.29,283.25 L122.89,282.38 L123.5,281.51 L124.1,280.66 L124.71,279.81 L125.31,278.96 L125.92,278.13 L126.52,277.3 L127.13,276.48 L127.73,275.66 L128.34,274.86 L128.94,274.05 L129.55,273.26 L130.15,272.47 L130.76,271.69 L131.36,270.91 L131.97,270.14 L132.57,269.37 L133.18,268.61 L133.78,267.86 L134.39,267.11 L134.99,266.37 L135.6,265.63 L136.2,264.9 L136.81,264.17 L137.41,263.45 L138.02,262.73 L138.62,262.01 L139.23,261.31 L139.83,260.6 L140.44,259.9 L141.04,259.21 L141.65,258.52 L142.25,257.83 L142.86,257.15 L143.46,256.47 L144.07,255.8 L144.67,255.13 L145.28,254.47 L145.88,253.81 L146.49,253.15 L147.09,252.5 L147.7,251.85 L148.3,251.2 L148.91,250.56 L149.51,249.92 L150.12,249.29 L150.72,248.66 L151.33,248.03 L151.93,247.4 L152.54,246.78 L153.14,246.17 L153.75,245.55 L154.35,244.94 L154.96,244.33 L155.56,243.73 L156.17,243.13 L156.77,242.53 L157.38,241.93 L157.98,241.34 L158.59,240.75 L159.19,240.17 L159.8,239.58 L160.4,239 L161.01,238.42 L161.61,237.85 L162.22,237.27 L162.82,236.71 L163.43,236.14 L164.03,235.57 L164.64,235.01 L165.24,234.45 L165.85,233.9 L166.45,233.34 L167.06,232.79 L167.66,232.24 L168.27,231.69 L168.87,231.15 L169.48,230.61 L170.08,230.07 L170.69,229.53 L171.29,228.99 L171.9,228.46" fill="none" stroke="#10e4f4" stroke-width="1.4" stroke-linejoin="round"/>
<path d="M27.42,257.55 L28.03,258 L28.64,258.44 L29.25,258.89 L29.86,259.34 L30.47,259.79 L31.07,260.24 L31.68,260.7 L32.29,261.15 L32.9,261.61 L33.51,262.06 L34.12,262.52 L34.73,262.98 L35.34,263.44 L35.95,263.91 L36.56,264.37 L37.17,264.84 L37.77,265.3 L38.38,265.77 L38.99,266.24 L39.6,266.71 L40.21,267.19 L40.82,267.66 L41.43,268.14 L42.04,268.62 L42.65,269.1 L43.26,269.58 L43.87,270.06 L44.47,270.54 L45.08,271.03 L45.69,271.51 L46.3,272 L46.91,272.49 L47.52,272.99 L48.13,273.48 L48.74,273.97 L49.35,274.47 L49.96,274.97 L50.56,275.47 L51.17,275.97 L51.78,276.48 L52.39,276.98 L53,277.49 L53.61,278 L54.22,278.51 L54.83,279.02 L55.44,279.54 L56.05,280.05 L56.66,280.57 L57.26,281.09 L57.87,281.61 L58.48,282.14 L59.09,282.66 L59.7,283.19 L60.31,283.72 L60.92,284.25 L61.53,284.79 L62.14,285.32 L62.75,285.86 L63.36,286.4 L63.96,286.94 L64.57,287.49 L65.18,288.03 L65.79,288.58 L66.4,289.13 L67.01,289.68 L67.62,290.24 L68.23,290.79 L68.84,291.35 L69.45,291.91 L70.06,292.48 L70.66,293.04 L71.27,293.61 L71.88,294.18 L72.49,294.76 L73.1,295.33 L73.71,295.91 L74.32,296.49 L74.93,297.07 L75.54,297.66 L76.15,298.24 L76.76,298.83 L77.36,299.42 L77.97,300.02 L78.58,300.62 L79.19,301.22 L79.8,301.82 L80.41,302.43 L81.02,303.03 L81.63,303.65 L82.24,304.26 L82.85,304.88 L83.45,305.49 L84.06,306.12 L84.67,306.74 L85.28,307.37 L85.89,308 L86.5,308.63 L87.11,309.27 L87.72,309.91 L88.33,310.55 L88.94,311.2 L89.55,311.85 L90.15,312.5 L90.76,313.16 L91.37,313.82 L91.98,314.48 L92.59,315.14 L93.2,315.81 L93.81,316.48 L94.42,317.16 L95.03,317.84 L95.64,318.52 L96.25,319.21 L96.85,319.9 L97.46,320.59 L98.07,321.29 L98.68,321.99 L99.29,322.69 L99.9,323.4 L100.51,322.7 L101.11,322 L101.72,321.3 L102.32,320.61 L102.93,319.92 L103.53,319.23 L104.14,318.55 L104.74,317.87 L105.35,317.2 L105.95,316.53 L106.56,315.86 L107.16,315.2 L107.77,314.53 L108.37,313.88 L108.98,313.22 L109.58,312.57 L110.19,311.92 L110.79,311.28 L111.4,310.64 L112,310 L112.61,309.36 L113.21,308.73 L113.82,308.1 L114.42,307.47 L115.03,306.85 L115.63,306.22 L116.24,305.61 L116.84,304.99 L117.45,304.38 L118.05,303.77 L118.66,303.16 L119.26,302.55 L119.87,301.95 L120.47,301.35 L121.08,300.76 L121.68,300.16 L122.29,299.57 L122.89,298.98 L123.5,298.39 L124.1,297.81 L124.71,297.23 L125.31,296.65 L125.92,296.07 L126.52,295.5 L127.13,294.93 L127.73,294.36 L128.34,293.79 L128.94,293.22 L129.55,292.66 L130.15,292.1 L130.76,291.54 L131.36,290.99 L131.97,290.43 L132.57,289.88 L133.18,289.33 L133.78,288.78 L134.39,288.24 L134.99,287.7 L135.6,287.15 L136.2,286.62 L136.81,286.08 L137.41,285.54 L138.02,285.01 L138.62,284.48 L139.23,283.95 L139.83,283.42 L140.44,282.9 L141.04,282.37 L141.65,281.85 L142.25,281.33 L142.86,280.82 L143.46,280.3 L144.07,279.79 L144.67,279.27 L145.28,278.76 L145.88,278.26 L146.49,277.75 L147.09,277.24 L147.7,276.74 L148.3,276.24 L148.91,275.74 L149.51,275.24 L150.12,274.75 L150.72,274.25 L151.33,273.76 L151.93,273.27 L152.54,272.78 L153.14,272.29 L153.75,271.8 L154.35,271.32 L154.96,270.83 L155.56,270.35 L156.17,269.87 L156.77,269.39 L157.38,268.92 L157.98,268.44 L158.59,267.97 L159.19,267.5 L159.8,267.02 L160.4,266.55 L161.01,266.09 L161.61,265.62 L162.22,265.16 L162.82,264.69 L163.43,264.23 L164.03,263.77 L164.64,263.31 L165.24,262.85 L165.85,262.39 L166.45,261.94 L167.06,261.49 L167.66,261.03 L168.27,260.58 L168.87,260.13 L169.48,259.68 L170.08,259.24 L170.69,258.79 L171.29,258.34 L171.9,257.9" fill="none" stroke="#7828e0" stroke-width="1.4" stroke-linejoin="round"/>
<path d="M27.42,287.48 L28.03,287.72 L28.64,287.97 L29.25,288.21 L29.86,288.45 L30.47,288.69 L31.07,288.94 L31.68,289.18 L32.29,289.43 L32.9,289.67 L33.51,289.92 L34.12,290.17 L34.73,290.42 L35.34,290.67 L35.95,290.92 L36.56,291.17 L37.17,291.42 L37.77,291.67 L38.38,291.92 L38.99,292.18 L39.6,292.43 L40.21,292.69 L40.82,292.95 L41.43,293.2 L42.04,293.46 L42.65,293.72 L43.26,293.98 L43.87,294.24 L44.47,294.5 L45.08,294.77 L45.69,295.03 L46.3,295.29 L46.91,295.56 L47.52,295.83 L48.13,296.09 L48.74,296.36 L49.35,296.63 L49.96,296.9 L50.56,297.17 L51.17,297.45 L51.78,297.72 L52.39,297.99 L53,298.27 L53.61,298.54 L54.22,298.82 L54.83,299.1 L55.44,299.38 L56.05,299.66 L56.66,299.94 L57.26,300.22 L57.87,300.51 L58.48,300.79 L59.09,301.08 L59.7,301.36 L60.31,301.65 L60.92,301.94 L61.53,302.23 L62.14,302.52 L62.75,302.81 L63.36,303.11 L63.96,303.4 L64.57,303.7 L65.18,304 L65.79,304.29 L66.4,304.59 L67.01,304.89 L67.62,305.2 L68.23,305.5 L68.84,305.81 L69.45,306.11 L70.06,306.42 L70.66,306.73 L71.27,307.04 L71.88,307.35 L72.49,307.66 L73.1,307.97 L73.71,308.29 L74.32,308.61 L74.93,308.92 L75.54,309.24 L76.15,309.57 L76.76,309.89 L77.36,310.21 L77.97,310.54 L78.58,310.86 L79.19,311.19 L79.8,311.52 L80.41,311.85 L81.02,312.19 L81.63,312.52 L82.24,312.86 L82.85,313.2 L83.45,313.54 L84.06,313.88 L84.67,314.22 L85.28,314.56 L85.89,314.91 L86.5,315.26 L87.11,315.61 L87.72,315.96 L88.33,316.31 L88.94,316.67 L89.55,317.03 L90.15,317.38 L90.76,317.75 L91.37,318.11 L91.98,318.47 L92.59,318.84 L93.2,319.21 L93.81,319.58 L94.42,319.95 L95.03,320.33 L95.64,320.7 L96.25,321.08 L96.85,321.46 L97.46,321.85 L98.07,322.23 L98.68,322.62 L99.29,323.01 L99.9,323.4 L100.51,323.01 L101.11,322.62 L101.72,322.24 L102.32,321.86 L102.93,321.48 L103.53,321.1 L104.14,320.72 L104.74,320.35 L105.35,319.97 L105.95,319.6 L106.56,319.24 L107.16,318.87 L107.77,318.5 L108.37,318.14 L108.98,317.78 L109.58,317.42 L110.19,317.07 L110.79,316.71 L111.4,316.36 L112,316.01 L112.61,315.66 L113.21,315.31 L113.82,314.96 L114.42,314.62 L115.03,314.28 L115.63,313.94 L116.24,313.6 L116.84,313.26 L117.45,312.92 L118.05,312.59 L118.66,312.26 L119.26,311.92 L119.87,311.6 L120.47,311.27 L121.08,310.94 L121.68,310.62 L122.29,310.29 L122.89,309.97 L123.5,309.65 L124.1,309.33 L124.71,309.01 L125.31,308.7 L125.92,308.38 L126.52,308.07 L127.13,307.75 L127.73,307.44 L128.34,307.13 L128.94,306.83 L129.55,306.52 L130.15,306.21 L130.76,305.91 L131.36,305.61 L131.97,305.3 L132.57,305 L133.18,304.7 L133.78,304.41 L134.39,304.11 L134.99,303.81 L135.6,303.52 L136.2,303.22 L136.81,302.93 L137.41,302.64 L138.02,302.35 L138.62,302.06 L139.23,301.78 L139.83,301.49 L140.44,301.2 L141.04,300.92 L141.65,300.64 L142.25,300.35 L142.86,300.07 L143.46,299.79 L144.07,299.51 L144.67,299.24 L145.28,298.96 L145.88,298.68 L146.49,298.41 L147.09,298.13 L147.7,297.86 L148.3,297.59 L148.91,297.32 L149.51,297.05 L150.12,296.78 L150.72,296.51 L151.33,296.24 L151.93,295.98 L152.54,295.71 L153.14,295.45 L153.75,295.19 L154.35,294.92 L154.96,294.66 L155.56,294.4 L156.17,294.14 L156.77,293.88 L157.38,293.62 L157.98,293.37 L158.59,293.11 L159.19,292.86 L159.8,292.6 L160.4,292.35 L161.01,292.09 L161.61,291.84 L162.22,291.59 L162.82,291.34 L163.43,291.09 L164.03,290.84 L164.64,290.59 L165.24,290.35 L165.85,290.1 L166.45,289.85 L167.06,289.61 L167.66,289.36 L168.27,289.12 L168.87,288.88 L169.48,288.63 L170.08,288.39 L170.69,288.15 L171.29,287.91 L171.9,287.67" fill="none" stroke="#f5a020" stroke-width="1.4" stroke-linejoin="round"/>
<path d="M27.42,301.12 L28.03,301.27 L28.64,301.42 L29.25,301.57 L29.86,301.72 L30.47,301.88 L31.07,302.03 L31.68,302.18 L32.29,302.34 L32.9,302.49 L33.51,302.64 L34.12,302.8 L34.73,302.96 L35.34,303.11 L35.95,303.27 L36.56,303.43 L37.17,303.58 L37.77,303.74 L38.38,303.9 L38.99,304.06 L39.6,304.22 L40.21,304.38 L40.82,304.54 L41.43,304.7 L42.04,304.86 L42.65,305.02 L43.26,305.19 L43.87,305.35 L44.47,305.51 L45.08,305.68 L45.69,305.84 L46.3,306.01 L46.91,306.17 L47.52,306.34 L48.13,306.51 L48.74,306.68 L49.35,306.84 L49.96,307.01 L50.56,307.18 L51.17,307.35 L51.78,307.52 L52.39,307.69 L53,307.86 L53.61,308.04 L54.22,308.21 L54.83,308.38 L55.44,308.56 L56.05,308.73 L56.66,308.91 L57.26,309.08 L57.87,309.26 L58.48,309.44 L59.09,309.62 L59.7,309.79 L60.31,309.97 L60.92,310.15 L61.53,310.33 L62.14,310.52 L62.75,310.7 L63.36,310.88 L63.96,311.06 L64.57,311.25 L65.18,311.43 L65.79,311.62 L66.4,311.8 L67.01,311.99 L67.62,312.18 L68.23,312.37 L68.84,312.56 L69.45,312.75 L70.06,312.94 L70.66,313.13 L71.27,313.32 L71.88,313.51 L72.49,313.71 L73.1,313.9 L73.71,314.1 L74.32,314.29 L74.93,314.49 L75.54,314.69 L76.15,314.89 L76.76,315.09 L77.36,315.29 L77.97,315.49 L78.58,315.69 L79.19,315.89 L79.8,316.1 L80.41,316.3 L81.02,316.51 L81.63,316.72 L82.24,316.92 L82.85,317.13 L83.45,317.34 L84.06,317.55 L84.67,317.76 L85.28,317.98 L85.89,318.19 L86.5,318.4 L87.11,318.62 L87.72,318.84 L88.33,319.05 L88.94,319.27 L89.55,319.49 L90.15,319.71 L90.76,319.93 L91.37,320.16 L91.98,320.38 L92.59,320.61 L93.2,320.83 L93.81,321.06 L94.42,321.29 L95.03,321.52 L95.64,321.75 L96.25,321.98 L96.85,322.21 L97.46,322.45 L98.07,322.68 L98.68,322.92 L99.29,323.16 L99.9,323.4 L100.51,323.16 L101.11,322.93 L101.72,322.69 L102.32,322.46 L102.93,322.22 L103.53,321.99 L104.14,321.76 L104.74,321.53 L105.35,321.3 L105.95,321.07 L106.56,320.85 L107.16,320.62 L107.77,320.4 L108.37,320.18 L108.98,319.96 L109.58,319.74 L110.19,319.52 L110.79,319.3 L111.4,319.08 L112,318.86 L112.61,318.65 L113.21,318.43 L113.82,318.22 L114.42,318.01 L115.03,317.8 L115.63,317.59 L116.24,317.38 L116.84,317.17 L117.45,316.96 L118.05,316.76 L118.66,316.55 L119.26,316.35 L119.87,316.14 L120.47,315.94 L121.08,315.74 L121.68,315.54 L122.29,315.34 L122.89,315.14 L123.5,314.94 L124.1,314.74 L124.71,314.54 L125.31,314.35 L125.92,314.15 L126.52,313.96 L127.13,313.76 L127.73,313.57 L128.34,313.38 L128.94,313.19 L129.55,313 L130.15,312.81 L130.76,312.62 L131.36,312.43 L131.97,312.24 L132.57,312.06 L133.18,311.87 L133.78,311.69 L134.39,311.5 L134.99,311.32 L135.6,311.13 L136.2,310.95 L136.81,310.77 L137.41,310.59 L138.02,310.41 L138.62,310.23 L139.23,310.05 L139.83,309.87 L140.44,309.69 L141.04,309.52 L141.65,309.34 L142.25,309.17 L142.86,308.99 L143.46,308.82 L144.07,308.64 L144.67,308.47 L145.28,308.3 L145.88,308.12 L146.49,307.95 L147.09,307.78 L147.7,307.61 L148.3,307.44 L148.91,307.27 L149.51,307.1 L150.12,306.94 L150.72,306.77 L151.33,306.6 L151.93,306.44 L152.54,306.27 L153.14,306.1 L153.75,305.94 L154.35,305.78 L154.96,305.61 L155.56,305.45 L156.17,305.29 L156.77,305.13 L157.38,304.96 L157.98,304.8 L158.59,304.64 L159.19,304.48 L159.8,304.32 L160.4,304.16 L161.01,304.01 L161.61,303.85 L162.22,303.69 L162.82,303.53 L163.43,303.38 L164.03,303.22 L164.64,303.07 L165.24,302.91 L165.85,302.76 L166.45,302.6 L167.06,302.45 L167.66,302.3 L168.27,302.14 L168.87,301.99 L169.48,301.84 L170.08,301.69 L170.69,301.54 L171.29,301.39 L171.9,301.24" fill="none" stroke="#2838c8" stroke-width="1.4" stroke-linejoin="round"/>
<path d="M27.42,313.76 L28.03,313.82 L28.64,313.88 L29.25,313.93 L29.86,313.99 L30.47,314.05 L31.07,314.11 L31.68,314.16 L32.29,314.22 L32.9,314.28 L33.51,314.34 L34.12,314.4 L34.73,314.46 L35.34,314.52 L35.95,314.58 L36.56,314.64 L37.17,314.7 L37.77,314.76 L38.38,314.82 L38.99,314.88 L39.6,314.94 L40.21,315 L40.82,315.07 L41.43,315.13 L42.04,315.19 L42.65,315.25 L43.26,315.32 L43.87,315.38 L44.47,315.45 L45.08,315.51 L45.69,315.57 L46.3,315.64 L46.91,315.7 L47.52,315.77 L48.13,315.84 L48.74,315.9 L49.35,315.97 L49.96,316.03 L50.56,316.1 L51.17,316.17 L51.78,316.24 L52.39,316.3 L53,316.37 L53.61,316.44 L54.22,316.51 L54.83,316.58 L55.44,316.65 L56.05,316.72 L56.66,316.79 L57.26,316.86 L57.87,316.94 L58.48,317.01 L59.09,317.08 L59.7,317.15 L60.31,317.23 L60.92,317.3 L61.53,317.37 L62.14,317.45 L62.75,317.52 L63.36,317.6 L63.96,317.68 L64.57,317.75 L65.18,317.83 L65.79,317.91 L66.4,317.98 L67.01,318.06 L67.62,318.14 L68.23,318.22 L68.84,318.3 L69.45,318.38 L70.06,318.46 L70.66,318.54 L71.27,318.63 L71.88,318.71 L72.49,318.79 L73.1,318.88 L73.71,318.96 L74.32,319.05 L74.93,319.13 L75.54,319.22 L76.15,319.31 L76.76,319.39 L77.36,319.48 L77.97,319.57 L78.58,319.66 L79.19,319.75 L79.8,319.85 L80.41,319.94 L81.02,320.03 L81.63,320.12 L82.24,320.22 L82.85,320.31 L83.45,320.41 L84.06,320.51 L84.67,320.6 L85.28,320.7 L85.89,320.8 L86.5,320.9 L87.11,321.01 L87.72,321.11 L88.33,321.21 L88.94,321.32 L89.55,321.42 L90.15,321.53 L90.76,321.64 L91.37,321.74 L91.98,321.85 L92.59,321.97 L93.2,322.08 L93.81,322.19 L94.42,322.31 L95.03,322.42 L95.64,322.54 L96.25,322.66 L96.85,322.78 L97.46,322.9 L98.07,323.02 L98.68,323.15 L99.29,323.27 L99.9,323.4 L100.51,323.27 L101.11,323.15 L101.72,323.02 L102.32,322.9 L102.93,322.78 L103.53,322.66 L104.14,322.54 L104.74,322.43 L105.35,322.31 L105.95,322.2 L106.56,322.09 L107.16,321.97 L107.77,321.86 L108.37,321.75 L108.98,321.65 L109.58,321.54 L110.19,321.43 L110.79,321.33 L111.4,321.22 L112,321.12 L112.61,321.02 L113.21,320.92 L113.82,320.82 L114.42,320.72 L115.03,320.62 L115.63,320.52 L116.24,320.43 L116.84,320.33 L117.45,320.24 L118.05,320.14 L118.66,320.05 L119.26,319.96 L119.87,319.87 L120.47,319.77 L121.08,319.68 L121.68,319.59 L122.29,319.51 L122.89,319.42 L123.5,319.33 L124.1,319.24 L124.71,319.16 L125.31,319.07 L125.92,318.99 L126.52,318.9 L127.13,318.82 L127.73,318.74 L128.34,318.65 L128.94,318.57 L129.55,318.49 L130.15,318.41 L130.76,318.33 L131.36,318.25 L131.97,318.17 L132.57,318.09 L133.18,318.01 L133.78,317.93 L134.39,317.86 L134.99,317.78 L135.6,317.7 L136.2,317.63 L136.81,317.55 L137.41,317.48 L138.02,317.4 L138.62,317.33 L139.23,317.26 L139.83,317.18 L140.44,317.11 L141.04,317.04 L141.65,316.97 L142.25,316.9 L142.86,316.83 L143.46,316.76 L144.07,316.69 L144.67,316.62 L145.28,316.55 L145.88,316.48 L146.49,316.41 L147.09,316.34 L147.7,316.27 L148.3,316.2 L148.91,316.14 L149.51,316.07 L150.12,316 L150.72,315.94 L151.33,315.87 L151.93,315.81 L152.54,315.74 L153.14,315.68 L153.75,315.61 L154.35,315.55 L154.96,315.48 L155.56,315.42 L156.17,315.36 L156.77,315.29 L157.38,315.23 L157.98,315.17 L158.59,315.11 L159.19,315.05 L159.8,314.98 L160.4,314.92 L161.01,314.86 L161.61,314.8 L162.22,314.74 L162.82,314.68 L163.43,314.62 L164.03,314.56 L164.64,314.5 L165.24,314.44 L165.85,314.38 L166.45,314.32 L167.06,314.27 L167.66,314.21 L168.27,314.15 L168.87,314.09 L169.48,314.03 L170.08,313.98 L170.69,313.92 L171.29,313.86 L171.9,313.81" fill="none" stroke="#f038e0" stroke-width="1.4" stroke-linejoin="round"/>
<rect x="84.6" y="188.6" width="31.4" height="69.8" fill="#fff" stroke="#999999" stroke-width="0.8"/>
<path d="M86.8,193.6 H95.9" stroke="#000000" stroke-width="1.3"/>
<text x="98.2" y="196.3" font-size="7.5" text-anchor="start" font-weight="normal" fill="#111" >2 K</text>
<path d="M86.8,201.16 H95.9" stroke="#e8141c" stroke-width="1.3"/>
<text x="98.2" y="203.86" font-size="7.5" text-anchor="start" font-weight="normal" fill="#111" >2.3 K</text>
<path d="M86.8,208.72 H95.9" stroke="#30b030" stroke-width="1.3"/>
<text x="98.2" y="211.42" font-size="7.5" text-anchor="start" font-weight="normal" fill="#111" >3 K</text>
<path d="M86.8,216.28 H95.9" stroke="#f2e600" stroke-width="1.3"/>
<text x="98.2" y="218.98" font-size="7.5" text-anchor="start" font-weight="normal" fill="#111" >3.5 K</text>
<path d="M86.8,223.84 H95.9" stroke="#10e4f4" stroke-width="1.3"/>
<text x="98.2" y="226.54" font-size="7.5" text-anchor="start" font-weight="normal" fill="#111" >4.5 K</text>
<path d="M86.8,231.4 H95.9" stroke="#7828e0" stroke-width="1.3"/>
<text x="98.2" y="234.1" font-size="7.5" text-anchor="start" font-weight="normal" fill="#111" >6 K</text>
<path d="M86.8,238.96 H95.9" stroke="#f5a020" stroke-width="1.3"/>
<text x="98.2" y="241.66" font-size="7.5" text-anchor="start" font-weight="normal" fill="#111" >8 K</text>
<path d="M86.8,246.52 H95.9" stroke="#2838c8" stroke-width="1.3"/>
<text x="98.2" y="249.22" font-size="7.5" text-anchor="start" font-weight="normal" fill="#111" >10 K</text>
<path d="M86.8,254.08 H95.9" stroke="#f038e0" stroke-width="1.3"/>
<text x="98.2" y="256.78" font-size="7.5" text-anchor="start" font-weight="normal" fill="#111" >15 K</text>
<rect x="212.5" y="180.0" width="145.10000000000002" height="143.89999999999998" fill="none" stroke="#999999" stroke-width="1.3"/>
<text x="209.6" y="183.5" font-size="8.5" text-anchor="end" font-weight="normal" fill="#111" >0</text>
<text x="209.6" y="242.75" font-size="8.5" text-anchor="end" font-weight="normal" fill="#111" >-1</text>
<text x="209.6" y="302" font-size="8.5" text-anchor="end" font-weight="normal" fill="#111" >-2</text>
<text x="245.25" y="334.5" font-size="8.6" text-anchor="middle" font-weight="normal" fill="#111" >-5</text>
<text x="284.5" y="334.5" font-size="8.6" text-anchor="middle" font-weight="normal" fill="#111" >0</text>
<text x="323.75" y="334.5" font-size="8.6" text-anchor="middle" font-weight="normal" fill="#111" >5</text>
<path d="M212.5,180.5 h3 M357.6,180.5 h-3 M212.5,239.75 h3 M357.6,239.75 h-3 M212.5,299 h3 M357.6,299 h-3 M245.85,323.9 v-3 M245.85,180.0 v3 M285.1,323.9 v-3 M285.1,180.0 v3 M324.35,323.9 v-3 M324.35,180.0 v3" stroke="#4a4a4a" stroke-width="0.9" fill="none"/>
<text x="275" y="345.3" font-size="11.6" text-anchor="start" font-weight="normal" fill="#111" textLength="20.2" lengthAdjust="spacingAndGlyphs">B(T)</text>
<text transform="translate(200.6,252.3) rotate(-90)" font-size="11.2" textLength="73.5" lengthAdjust="spacingAndGlyphs" text-anchor="middle" fill="#222">ΔG (e<tspan font-size="7" dy="-4">2</tspan><tspan dy="4">/h.10</tspan><tspan font-size="7" dy="-4">-3</tspan><tspan dy="4">)</tspan></text>
<path d="M212.49,321.3 L212.97,320.95 L213.46,320.6 L213.95,320.25 L214.44,319.89 L214.92,319.54 L215.41,319.18 L215.9,318.82 L216.39,318.45 L216.87,318.09 L217.36,317.72 L217.85,317.35 L218.34,316.97 L218.82,316.6 L219.31,316.22 L219.8,315.83 L220.28,315.45 L220.77,315.06 L221.26,314.67 L221.75,314.28 L222.23,313.89 L222.72,313.49 L223.21,313.09 L223.7,312.68 L224.18,312.27 L224.67,311.86 L225.16,311.45 L225.65,311.03 L226.13,310.61 L226.62,310.19 L227.11,309.76 L227.59,309.33 L228.08,308.9 L228.57,308.46 L229.06,308.02 L229.54,307.58 L230.03,307.13 L230.52,306.68 L231.01,306.23 L231.49,305.77 L231.98,305.31 L232.47,304.84 L232.96,304.37 L233.44,303.89 L233.93,303.42 L234.42,302.93 L234.9,302.44 L235.39,301.95 L235.88,301.46 L236.37,300.96 L236.85,300.45 L237.34,299.94 L237.83,299.43 L238.32,298.91 L238.8,298.38 L239.29,297.85 L239.78,297.32 L240.27,296.78 L240.75,296.23 L241.24,295.68 L241.73,295.12 L242.21,294.56 L242.7,293.99 L243.19,293.42 L243.68,292.84 L244.16,292.25 L244.65,291.66 L245.14,291.06 L245.63,290.45 L246.11,289.84 L246.6,289.22 L247.09,288.59 L247.58,287.96 L248.06,287.32 L248.55,286.67 L249.04,286.01 L249.52,285.35 L250.01,284.67 L250.5,283.99 L250.99,283.3 L251.47,282.6 L251.96,281.9 L252.45,281.18 L252.94,280.45 L253.42,279.71 L253.91,278.97 L254.4,278.21 L254.89,277.44 L255.37,276.67 L255.86,275.88 L256.35,275.08 L256.83,274.26 L257.32,273.44 L257.81,272.6 L258.3,271.75 L258.78,270.88 L259.27,270.01 L259.76,269.12 L260.25,268.21 L260.73,267.29 L261.22,266.35 L261.71,265.39 L262.2,264.42 L262.68,263.44 L263.17,262.43 L263.66,261.4 L264.14,260.36 L264.63,259.3 L265.12,258.21 L265.61,257.1 L266.09,255.97 L266.58,254.82 L267.07,253.64 L267.56,252.44 L268.04,251.21 L268.53,249.95 L269.02,248.66 L269.51,247.35 L269.99,246 L270.48,244.61 L270.97,243.2 L271.45,241.74 L271.94,240.25 L272.43,238.71 L272.92,237.14 L273.4,235.52 L273.89,233.85 L274.38,232.12 L274.87,230.35 L275.35,228.52 L275.84,226.63 L276.33,224.68 L276.82,222.65 L277.3,220.56 L277.79,218.39 L278.28,216.14 L278.76,213.81 L279.25,211.39 L279.74,208.87 L280.23,206.25 L280.71,203.54 L281.2,200.73 L281.69,197.82 L282.18,194.83 L282.66,191.8 L283.15,188.76 L283.64,185.84 L284.13,183.23 L284.61,181.27 L285.1,180.5 L285.59,181.27 L286.07,183.23 L286.56,185.84 L287.05,188.76 L287.54,191.8 L288.02,194.83 L288.51,197.82 L289,200.73 L289.49,203.54 L289.97,206.25 L290.46,208.87 L290.95,211.39 L291.44,213.81 L291.92,216.14 L292.41,218.39 L292.9,220.56 L293.38,222.65 L293.87,224.68 L294.36,226.63 L294.85,228.52 L295.33,230.35 L295.82,232.12 L296.31,233.85 L296.8,235.52 L297.28,237.14 L297.77,238.71 L298.26,240.25 L298.75,241.74 L299.23,243.2 L299.72,244.61 L300.21,246 L300.69,247.35 L301.18,248.66 L301.67,249.95 L302.16,251.21 L302.64,252.44 L303.13,253.64 L303.62,254.82 L304.11,255.97 L304.59,257.1 L305.08,258.21 L305.57,259.3 L306.06,260.36 L306.54,261.4 L307.03,262.43 L307.52,263.44 L308,264.42 L308.49,265.39 L308.98,266.35 L309.47,267.29 L309.95,268.21 L310.44,269.12 L310.93,270.01 L311.42,270.88 L311.9,271.75 L312.39,272.6 L312.88,273.44 L313.37,274.26 L313.85,275.08 L314.34,275.88 L314.83,276.67 L315.31,277.44 L315.8,278.21 L316.29,278.97 L316.78,279.71 L317.26,280.45 L317.75,281.18 L318.24,281.9 L318.73,282.6 L319.21,283.3 L319.7,283.99 L320.19,284.67 L320.68,285.35 L321.16,286.01 L321.65,286.67 L322.14,287.32 L322.62,287.96 L323.11,288.59 L323.6,289.22 L324.09,289.84 L324.57,290.45 L325.06,291.06 L325.55,291.66 L326.04,292.25 L326.52,292.84 L327.01,293.42 L327.5,293.99 L327.99,294.56 L328.47,295.12 L328.96,295.68 L329.45,296.23 L329.93,296.78 L330.42,297.32 L330.91,297.85 L331.4,298.38 L331.88,298.91 L332.37,299.43 L332.86,299.94 L333.35,300.45 L333.83,300.96 L334.32,301.46 L334.81,301.95 L335.3,302.44 L335.78,302.93 L336.27,303.42 L336.76,303.89 L337.24,304.37 L337.73,304.84 L338.22,305.31 L338.71,305.77 L339.19,306.23 L339.68,306.68 L340.17,307.13 L340.66,307.58 L341.14,308.02 L341.63,308.46 L342.12,308.9 L342.61,309.33 L343.09,309.76 L343.58,310.19 L344.07,310.61 L344.55,311.03 L345.04,311.45 L345.53,311.86 L346.02,312.27 L346.5,312.68 L346.99,313.09 L347.48,313.49 L347.97,313.89 L348.45,314.28 L348.94,314.67 L349.43,315.06 L349.92,315.45 L350.4,315.83 L350.89,316.22 L351.38,316.6 L351.86,316.97 L352.35,317.35 L352.84,317.72 L353.33,318.09 L353.81,318.45 L354.3,318.82 L354.79,319.18 L355.28,319.54 L355.76,319.89 L356.25,320.25 L356.74,320.6 L357.23,320.95 L357.71,321.3" fill="none" stroke="#3c3cf0" stroke-width="3.0" stroke-linejoin="round"/>
<path d="M212.49,321.3 L212.97,320.95 L213.46,320.6 L213.95,320.25 L214.44,319.89 L214.92,319.54 L215.41,319.18 L215.9,318.82 L216.39,318.45 L216.87,318.09 L217.36,317.72 L217.85,317.35 L218.34,316.97 L218.82,316.6 L219.31,316.22 L219.8,315.83 L220.28,315.45 L220.77,315.06 L221.26,314.67 L221.75,314.28 L222.23,313.89 L222.72,313.49 L223.21,313.09 L223.7,312.68 L224.18,312.27 L224.67,311.86 L225.16,311.45 L225.65,311.03 L226.13,310.61 L226.62,310.19 L227.11,309.76 L227.59,309.33 L228.08,308.9 L228.57,308.46 L229.06,308.02 L229.54,307.58 L230.03,307.13 L230.52,306.68 L231.01,306.23 L231.49,305.77 L231.98,305.31 L232.47,304.84 L232.96,304.37 L233.44,303.89 L233.93,303.42 L234.42,302.93 L234.9,302.44 L235.39,301.95 L235.88,301.46 L236.37,300.96 L236.85,300.45 L237.34,299.94 L237.83,299.43 L238.32,298.91 L238.8,298.38 L239.29,297.85 L239.78,297.32 L240.27,296.78 L240.75,296.23 L241.24,295.68 L241.73,295.12 L242.21,294.56 L242.7,293.99 L243.19,293.42 L243.68,292.84 L244.16,292.25 L244.65,291.66 L245.14,291.06 L245.63,290.45 L246.11,289.84 L246.6,289.22 L247.09,288.59 L247.58,287.96 L248.06,287.32 L248.55,286.67 L249.04,286.01 L249.52,285.35 L250.01,284.67 L250.5,283.99 L250.99,283.3 L251.47,282.6 L251.96,281.9 L252.45,281.18 L252.94,280.45 L253.42,279.71 L253.91,278.97 L254.4,278.21 L254.89,277.44 L255.37,276.67 L255.86,275.88 L256.35,275.08 L256.83,274.26 L257.32,273.44 L257.81,272.6 L258.3,271.75 L258.78,270.88 L259.27,270.01 L259.76,269.12 L260.25,268.21 L260.73,267.29 L261.22,266.35 L261.71,265.39 L262.2,264.42 L262.68,263.44 L263.17,262.43 L263.66,261.4 L264.14,260.36 L264.63,259.3 L265.12,258.21 L265.61,257.1 L266.09,255.97 L266.58,254.82 L267.07,253.64 L267.56,252.44 L268.04,251.21 L268.53,249.95 L269.02,248.66 L269.51,247.35 L269.99,246 L270.48,244.61 L270.97,243.2 L271.45,241.74 L271.94,240.25 L272.43,238.71 L272.92,237.14 L273.4,235.52 L273.89,233.85 L274.38,232.12 L274.87,230.35 L275.35,228.52 L275.84,226.63 L276.33,224.68 L276.82,222.65 L277.3,220.56 L277.79,218.39 L278.28,216.14 L278.76,213.81 L279.25,211.39 L279.74,208.87 L280.23,206.25 L280.71,203.54 L281.2,200.73 L281.69,197.82 L282.18,194.83 L282.66,191.8 L283.15,188.76 L283.64,185.84 L284.13,183.23 L284.61,181.27 L285.1,180.5 L285.59,181.27 L286.07,183.23 L286.56,185.84 L287.05,188.76 L287.54,191.8 L288.02,194.83 L288.51,197.82 L289,200.73 L289.49,203.54 L289.97,206.25 L290.46,208.87 L290.95,211.39 L291.44,213.81 L291.92,216.14 L292.41,218.39 L292.9,220.56 L293.38,222.65 L293.87,224.68 L294.36,226.63 L294.85,228.52 L295.33,230.35 L295.82,232.12 L296.31,233.85 L296.8,235.52 L297.28,237.14 L297.77,238.71 L298.26,240.25 L298.75,241.74 L299.23,243.2 L299.72,244.61 L300.21,246 L300.69,247.35 L301.18,248.66 L301.67,249.95 L302.16,251.21 L302.64,252.44 L303.13,253.64 L303.62,254.82 L304.11,255.97 L304.59,257.1 L305.08,258.21 L305.57,259.3 L306.06,260.36 L306.54,261.4 L307.03,262.43 L307.52,263.44 L308,264.42 L308.49,265.39 L308.98,266.35 L309.47,267.29 L309.95,268.21 L310.44,269.12 L310.93,270.01 L311.42,270.88 L311.9,271.75 L312.39,272.6 L312.88,273.44 L313.37,274.26 L313.85,275.08 L314.34,275.88 L314.83,276.67 L315.31,277.44 L315.8,278.21 L316.29,278.97 L316.78,279.71 L317.26,280.45 L317.75,281.18 L318.24,281.9 L318.73,282.6 L319.21,283.3 L319.7,283.99 L320.19,284.67 L320.68,285.35 L321.16,286.01 L321.65,286.67 L322.14,287.32 L322.62,287.96 L323.11,288.59 L323.6,289.22 L324.09,289.84 L324.57,290.45 L325.06,291.06 L325.55,291.66 L326.04,292.25 L326.52,292.84 L327.01,293.42 L327.5,293.99 L327.99,294.56 L328.47,295.12 L328.96,295.68 L329.45,296.23 L329.93,296.78 L330.42,297.32 L330.91,297.85 L331.4,298.38 L331.88,298.91 L332.37,299.43 L332.86,299.94 L333.35,300.45 L333.83,300.96 L334.32,301.46 L334.81,301.95 L335.3,302.44 L335.78,302.93 L336.27,303.42 L336.76,303.89 L337.24,304.37 L337.73,304.84 L338.22,305.31 L338.71,305.77 L339.19,306.23 L339.68,306.68 L340.17,307.13 L340.66,307.58 L341.14,308.02 L341.63,308.46 L342.12,308.9 L342.61,309.33 L343.09,309.76 L343.58,310.19 L344.07,310.61 L344.55,311.03 L345.04,311.45 L345.53,311.86 L346.02,312.27 L346.5,312.68 L346.99,313.09 L347.48,313.49 L347.97,313.89 L348.45,314.28 L348.94,314.67 L349.43,315.06 L349.92,315.45 L350.4,315.83 L350.89,316.22 L351.38,316.6 L351.86,316.97 L352.35,317.35 L352.84,317.72 L353.33,318.09 L353.81,318.45 L354.3,318.82 L354.79,319.18 L355.28,319.54 L355.76,319.89 L356.25,320.25 L356.74,320.6 L357.23,320.95 L357.71,321.3" fill="none" stroke="#2424d4" stroke-width="1.5" stroke-linejoin="round"/>
<path d="M212.89,321.6 L213.37,321.25 L213.86,320.9 L214.35,320.55 L214.84,320.19 L215.32,319.84 L215.81,319.48 L216.3,319.12 L216.79,318.75 L217.27,318.39 L217.76,318.02 L218.25,317.65 L218.74,317.27 L219.22,316.9 L219.71,316.52 L220.2,316.13 L220.68,315.75 L221.17,315.36 L221.66,314.97 L222.15,314.58 L222.63,314.19 L223.12,313.79 L223.61,313.39 L224.1,312.98 L224.58,312.57 L225.07,312.16 L225.56,311.75 L226.05,311.33 L226.53,310.91 L227.02,310.49 L227.51,310.06 L227.99,309.63 L228.48,309.2 L228.97,308.76 L229.46,308.32 L229.94,307.88 L230.43,307.43 L230.92,306.98 L231.41,306.53 L231.89,306.07 L232.38,305.61 L232.87,305.14 L233.36,304.67 L233.84,304.19 L234.33,303.72 L234.82,303.23 L235.3,302.74 L235.79,302.25 L236.28,301.76 L236.77,301.26 L237.25,300.75 L237.74,300.24 L238.23,299.73 L238.72,299.21 L239.2,298.68 L239.69,298.15 L240.18,297.62 L240.67,297.08 L241.15,296.53 L241.64,295.98 L242.13,295.42 L242.61,294.86 L243.1,294.29 L243.59,293.72 L244.08,293.14 L244.56,292.55 L245.05,291.96 L245.54,291.36 L246.03,290.75 L246.51,290.14 L247,289.52 L247.49,288.89 L247.98,288.26 L248.46,287.62 L248.95,286.97 L249.44,286.31 L249.92,285.65 L250.41,284.97 L250.9,284.29 L251.39,283.6 L251.87,282.9 L252.36,282.2 L252.85,281.48 L253.34,280.75 L253.82,280.01 L254.31,279.27 L254.8,278.51 L255.29,277.74 L255.77,276.97 L256.26,276.18 L256.75,275.38 L257.23,274.56 L257.72,273.74 L258.21,272.9 L258.7,272.05 L259.18,271.18 L259.67,270.31 L260.16,269.42 L260.65,268.51 L261.13,267.59 L261.62,266.65 L262.11,265.69 L262.6,264.72 L263.08,263.74 L263.57,262.73 L264.06,261.7 L264.54,260.66 L265.03,259.6 L265.52,258.51 L266.01,257.4 L266.49,256.27 L266.98,255.12 L267.47,253.94 L267.96,252.74 L268.44,251.51 L268.93,250.25 L269.42,248.96 L269.91,247.65 L270.39,246.3 L270.88,244.91 L271.37,243.5 L271.85,242.04 L272.34,240.55 L272.83,239.01 L273.32,237.44 L273.8,235.82 L274.29,234.15 L274.78,232.42 L275.27,230.65 L275.75,228.82 L276.24,226.93 L276.73,224.98 L277.22,222.95 L277.7,220.86 L278.19,218.69 L278.68,216.44 L279.16,214.11 L279.65,211.69 L280.14,209.17 L280.63,206.55 L281.11,203.84 L281.6,201.03 L282.09,198.12 L282.58,195.13 L283.06,192.1 L283.55,189.06 L284.04,186.14 L284.53,183.53 L285.01,181.57 L285.5,180.8 L285.99,181.57 L286.47,183.53 L286.96,186.14 L287.45,189.06 L287.94,192.1 L288.42,195.13 L288.91,198.12 L289.4,201.03 L289.89,203.84 L290.37,206.55 L290.86,209.17 L291.35,211.69 L291.84,214.11 L292.32,216.44 L292.81,218.69 L293.3,220.86 L293.78,222.95 L294.27,224.98 L294.76,226.93 L295.25,228.82 L295.73,230.65 L296.22,232.42 L296.71,234.15 L297.2,235.82 L297.68,237.44 L298.17,239.01 L298.66,240.55 L299.15,242.04 L299.63,243.5 L300.12,244.91 L300.61,246.3 L301.09,247.65 L301.58,248.96 L302.07,250.25 L302.56,251.51 L303.04,252.74 L303.53,253.94 L304.02,255.12 L304.51,256.27 L304.99,257.4 L305.48,258.51 L305.97,259.6 L306.46,260.66 L306.94,261.7 L307.43,262.73 L307.92,263.74 L308.4,264.72 L308.89,265.69 L309.38,266.65 L309.87,267.59 L310.35,268.51 L310.84,269.42 L311.33,270.31 L311.82,271.18 L312.3,272.05 L312.79,272.9 L313.28,273.74 L313.77,274.56 L314.25,275.38 L314.74,276.18 L315.23,276.97 L315.71,277.74 L316.2,278.51 L316.69,279.27 L317.18,280.01 L317.66,280.75 L318.15,281.48 L318.64,282.2 L319.13,282.9 L319.61,283.6 L320.1,284.29 L320.59,284.97 L321.08,285.65 L321.56,286.31 L322.05,286.97 L322.54,287.62 L323.02,288.26 L323.51,288.89 L324,289.52 L324.49,290.14 L324.97,290.75 L325.46,291.36 L325.95,291.96 L326.44,292.55 L326.92,293.14 L327.41,293.72 L327.9,294.29 L328.39,294.86 L328.87,295.42 L329.36,295.98 L329.85,296.53 L330.33,297.08 L330.82,297.62 L331.31,298.15 L331.8,298.68 L332.28,299.21 L332.77,299.73 L333.26,300.24 L333.75,300.75 L334.23,301.26 L334.72,301.76 L335.21,302.25 L335.7,302.74 L336.18,303.23 L336.67,303.72 L337.16,304.19 L337.64,304.67 L338.13,305.14 L338.62,305.61 L339.11,306.07 L339.59,306.53 L340.08,306.98 L340.57,307.43 L341.06,307.88 L341.54,308.32 L342.03,308.76 L342.52,309.2 L343.01,309.63 L343.49,310.06 L343.98,310.49 L344.47,310.91 L344.95,311.33 L345.44,311.75 L345.93,312.16 L346.42,312.57 L346.9,312.98 L347.39,313.39 L347.88,313.79 L348.37,314.19 L348.85,314.58 L349.34,314.97 L349.83,315.36 L350.32,315.75 L350.8,316.13 L351.29,316.52 L351.78,316.9 L352.26,317.27 L352.75,317.65 L353.24,318.02 L353.73,318.39 L354.21,318.75 L354.7,319.12 L355.19,319.48 L355.68,319.84 L356.16,320.19 L356.65,320.55 L357.14,320.9 L357.63,321.25 L358.11,321.6" fill="none" stroke="#e01820" stroke-width="0.9" stroke-linejoin="round" opacity="0.5"/>
<rect x="313.5" y="184.8" width="39" height="21.5" fill="#fff" stroke="#999999" stroke-width="0.8"/>
<path d="M314.8,190.5 H323.9" stroke="#e8141c" stroke-width="1.9"/>
<circle cx="319.3" cy="199.4" r="3.2" fill="none" stroke="#4a4ae0" stroke-width="0.9"/>
<text x="326.8" y="194" font-size="8" text-anchor="start" font-weight="normal" fill="#000" >2K</text>
<text x="326.8" y="202.9" font-size="7.6" text-anchor="start" font-weight="normal" fill="#000" >HLN fit</text>
</svg></body></html>
